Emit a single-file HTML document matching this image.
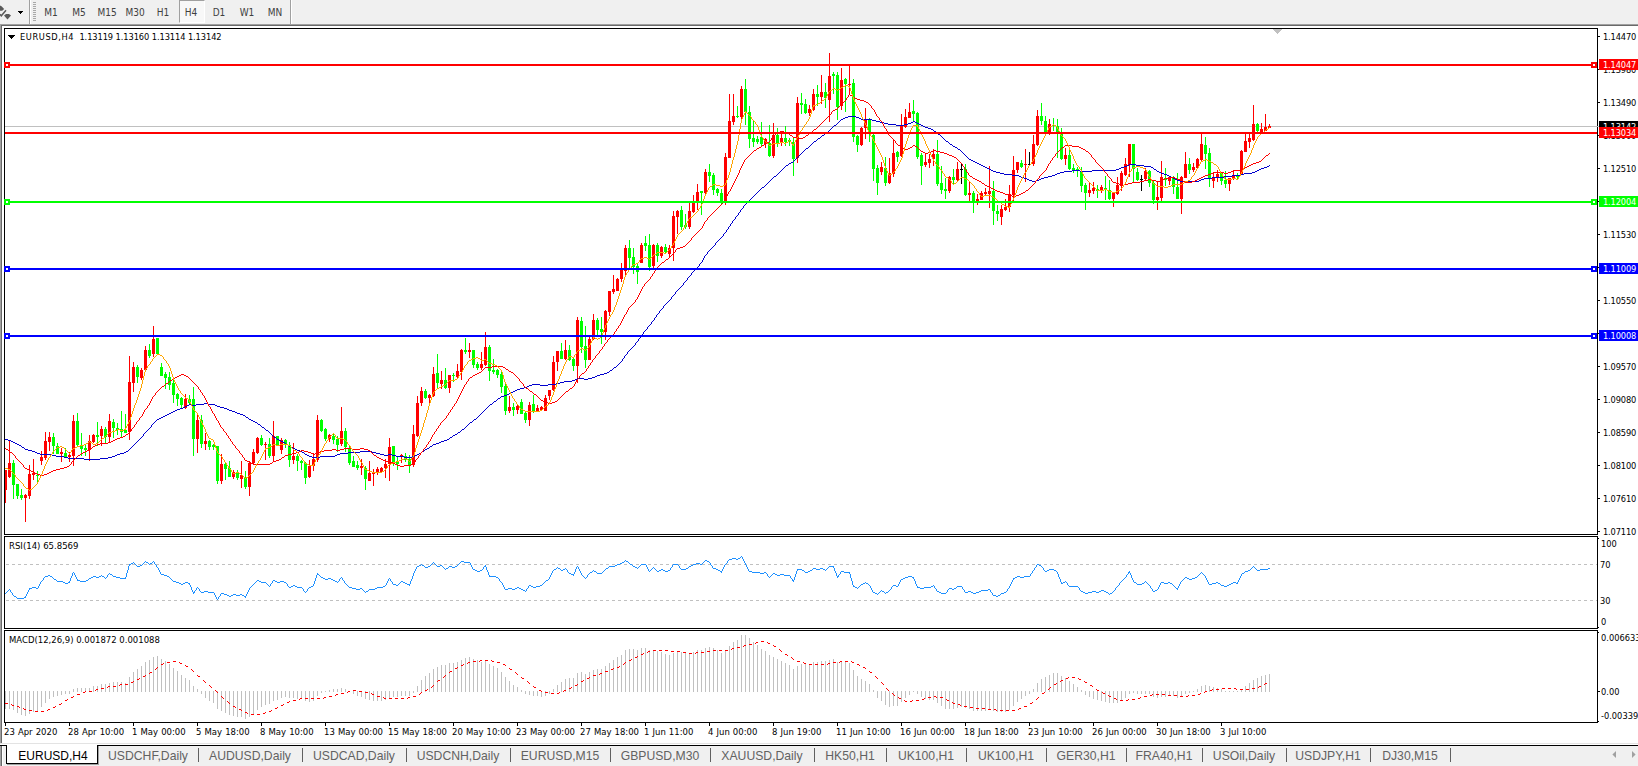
<!DOCTYPE html>
<html><head><meta charset="utf-8"><title>EURUSD,H4</title>
<style>
html,body{margin:0;padding:0}
body{width:1638px;height:766px;position:relative;overflow:hidden;background:#fff;font-family:"Liberation Sans",sans-serif}
.t{position:absolute;font-family:"DejaVu Sans Condensed","Liberation Sans",sans-serif;font-size:9.2px;line-height:15px;height:15px;white-space:nowrap}
.lb{letter-spacing:-0.15px;font-family:"DejaVu Sans Condensed","Liberation Sans",sans-serif;position:absolute;left:1599px;width:39px;height:11px;color:#fff;font-size:9.2px;line-height:12px;padding-left:4px;box-sizing:border-box;white-space:nowrap;overflow:hidden}
.tf{font-family:"DejaVu Sans Condensed","Liberation Sans",sans-serif;position:absolute;top:0;width:28px;height:23px;line-height:25px;text-align:center;font-size:10px;color:#404040}
.tab{position:absolute;top:746px;height:20px;line-height:20px;text-align:center;font-size:12.2px;color:#626262;white-space:nowrap}
</style></head><body>
<div style="position:absolute;left:0;top:0;width:1638px;height:24px;background:#f0f0f0"></div>
<div style="position:absolute;left:0;top:24px;width:1638px;height:1px;background:#a0a0a0"></div>
<div style="position:absolute;left:0;top:25px;width:1638px;height:1px;background:#696969"></div>
<div style="position:absolute;left:0;top:25px;width:1px;height:718px;background:#a0a0a0"></div>
<div style="position:absolute;left:1px;top:25px;width:1px;height:718px;background:#696969"></div>
<div style="position:absolute;left:29px;top:0;width:1px;height:24px;background:#a0a0a0"></div>
<div style="position:absolute;left:30px;top:0;width:1px;height:24px;background:#fff"></div>
<div style="position:absolute;left:290px;top:0;width:1px;height:24px;background:#a0a0a0"></div>
<div style="position:absolute;left:291px;top:0;width:1px;height:24px;background:#fff"></div>
<div style="position:absolute;left:33px;top:2px;width:3px;height:1px;background:#a8a8a8"></div><div style="position:absolute;left:33px;top:4px;width:3px;height:1px;background:#a8a8a8"></div><div style="position:absolute;left:33px;top:6px;width:3px;height:1px;background:#a8a8a8"></div><div style="position:absolute;left:33px;top:8px;width:3px;height:1px;background:#a8a8a8"></div><div style="position:absolute;left:33px;top:10px;width:3px;height:1px;background:#a8a8a8"></div><div style="position:absolute;left:33px;top:12px;width:3px;height:1px;background:#a8a8a8"></div><div style="position:absolute;left:33px;top:14px;width:3px;height:1px;background:#a8a8a8"></div><div style="position:absolute;left:33px;top:16px;width:3px;height:1px;background:#a8a8a8"></div><div style="position:absolute;left:33px;top:18px;width:3px;height:1px;background:#a8a8a8"></div><div style="position:absolute;left:33px;top:20px;width:3px;height:1px;background:#a8a8a8"></div>
<div style="position:absolute;left:179px;top:0;width:26px;height:23px;background:#f8f8f8;box-sizing:border-box;border-left:1px solid #a0a0a0;border-top:1px solid #a0a0a0;border-right:1px solid #fff;border-bottom:1px solid #fff"></div>
<div class="tf" style="left:37px">M1</div><div class="tf" style="left:65px">M5</div><div class="tf" style="left:93px">M15</div><div class="tf" style="left:121px">M30</div><div class="tf" style="left:149px">H1</div><div class="tf" style="left:177px">H4</div><div class="tf" style="left:205px">D1</div><div class="tf" style="left:233px">W1</div><div class="tf" style="left:261px">MN</div>
<svg width="30" height="24" viewBox="0 0 30 24" style="position:absolute;left:0;top:0" shape-rendering="crispEdges">
<g shape-rendering="auto"><path d="M0 5.5L1.5 6.2L4.2 9L2.2 10.8L0 10.8z" fill="#5a5a5a"/><path d="M0 14.3L1.3 15.8L6 10.3" stroke="#5a5a5a" stroke-width="1.5" fill="none"/>
<path d="M4 15.6L6 14h3l2 1.6L7.5 19.4z" fill="#5a5a5a"/></g>
<path d="M18 11h5l-2.5 3z" fill="#000"/>
</svg>
<svg width="1638" height="766" viewBox="0 0 1638 766" shape-rendering="crispEdges" style="position:absolute;left:0;top:0"><rect x="5" y="126" width="1593" height="1" fill="#c0c0c0"/><path d="M1273 29h9l-4.5 5z" fill="#c0c0c0"/><path fill="#ff0000" d="M5 470h1V503h-1zM5 470H7V490H5zM9 441h1V478h-1zM8 463H11V477H8zM25 494h1V522h-1zM24 495H27V498H24zM29 465h1V499h-1zM28 474H31V496H28zM33 459h1V480h-1zM32 473H35V475H32zM41 451h1V465h-1zM40 457H43V461H40zM45 432h1V460h-1zM44 441H47V458H44zM49 432h1V451h-1zM48 437H51V442H48zM61 448h1V462h-1zM60 452H63V454H60zM69 452h1V462h-1zM68 455H71V457H68zM73 415h1V466h-1zM72 421H75V456H72zM89 435h1V461h-1zM88 441H91V450H88zM93 434h1V443h-1zM92 435H95V442H92zM101 426h1V446h-1zM100 429H103V436H100zM109 414h1V442h-1zM108 421H111V437H108zM129 356h1V440h-1zM128 382H131V432H128zM133 362h1V392h-1zM132 367H135V383H132zM141 368h1V380h-1zM140 370H143V378H140zM145 346h1V371h-1zM144 350H147V370H144zM153 326h1V357h-1zM152 339H155V354H152zM185 394h1V409h-1zM184 399H187V408H184zM197 414h1V453h-1zM196 420H199V439H196zM205 433h1V450h-1zM204 441H207V444H204zM221 454h1V484h-1zM220 464H223V481H220zM233 470h1V479h-1zM232 472H235V477H232zM241 461h1V488h-1zM240 475H243V479H240zM249 461h1V496h-1zM248 463H251V487H248zM253 449h1V465h-1zM252 452H255V463H252zM257 437h1V454h-1zM256 438H259V453H256zM265 442h1V460h-1zM264 444H267V445H264zM273 421h1V462h-1zM272 436H275V456H272zM281 438h1V454h-1zM280 440H283V450H280zM293 443h1V464h-1zM292 456H295V460H292zM309 460h1V478h-1zM308 466H311V477H308zM313 453h1V471h-1zM312 459H315V466H312zM317 415h1V462h-1zM316 420H319V460H316zM329 434h1V442h-1zM328 435H331V439H328zM341 407h1V446h-1zM340 431H343V444H340zM361 459h1V475h-1zM360 466H363V468H360zM369 461h1V481h-1zM368 473H371V481H368zM373 469h1V486h-1zM372 472H375V474H372zM377 467h1V475h-1zM376 469H379V472H376zM381 467h1V473h-1zM380 468H383V472H380zM385 459h1V478h-1zM384 464H387V468H384zM389 438h1V481h-1zM388 447H391V464H388zM401 454h1V463h-1zM400 455H403V457H400zM413 425h1V467h-1zM412 434H415V465H412zM417 396h1V437h-1zM416 403H419V436H416zM421 387h1V406h-1zM420 391H423V403H420zM429 394h1V403h-1zM428 395H431V398H428zM433 367h1V397h-1zM432 374H435V396H432zM441 371h1V389h-1zM440 380H443V384H440zM449 375h1V393h-1zM448 375H451V388H448zM457 364h1V378h-1zM456 371H459V377H456zM461 349h1V380h-1zM460 350H463V372H460zM469 343h1V358h-1zM468 350H471V352H468zM481 352h1V370h-1zM480 364H483V368H480zM485 332h1V366h-1zM484 347H487V365H484zM509 396h1V413h-1zM508 407H511V411H508zM517 405h1V414h-1zM516 406H519V410H516zM529 402h1V426h-1zM528 405H531V420H528zM537 405h1V412h-1zM536 408H539V411H536zM541 406h1V411h-1zM540 407H543V410H540zM545 395h1V411h-1zM544 398H547V411H544zM549 390h1V400h-1zM548 390H551V396H548zM553 356h1V391h-1zM552 362H555V390H552zM557 351h1V371h-1zM556 351H559V362H556zM565 340h1V360h-1zM564 350H567V359H564zM577 317h1V383h-1zM576 320H579V366H576zM589 337h1V360h-1zM588 339H591V360H588zM593 314h1V340h-1zM592 320H595V339H592zM605 310h1V340h-1zM604 311H607V332H604zM609 291h1V316h-1zM608 291H611V312H608zM613 275h1V294h-1zM612 289H615V292H612zM617 278h1V291h-1zM616 279H619V291H616zM621 263h1V282h-1zM620 270H623V279H620zM625 245h1V275h-1zM624 248H627V271H624zM641 243h1V263h-1zM640 245H643V263H640zM653 244h1V268h-1zM652 245H655V266H652zM661 246h1V258h-1zM660 247H663V256H660zM669 245h1V258h-1zM668 248H671V254H668zM673 211h1V261h-1zM672 216H675V248H672zM677 210h1V234h-1zM676 211H679V217H676zM689 203h1V229h-1zM688 211H691V227H688zM693 195h1V213h-1zM692 201H695V212H692zM697 184h1V210h-1zM696 192H699V201H696zM705 169h1V194h-1zM704 172H707V193H704zM725 153h1V205h-1zM724 157H727V202H724zM729 94h1V158h-1zM728 121H731V158H728zM733 94h1V125h-1zM732 116H735V122H732zM741 86h1V119h-1zM740 89H743V117H740zM765 138h1V148h-1zM764 139H767V144H764zM773 123h1V158h-1zM772 135H775V156H772zM781 131h1V146h-1zM780 138H783V142H780zM797 97h1V163h-1zM796 103H799V158H796zM809 105h1V116h-1zM808 109H811V113H808zM813 89h1V111h-1zM812 94H815V110H812zM821 75h1V104h-1zM820 92H823V97H820zM829 53h1V122h-1zM828 76H831V100H828zM841 68h1V110h-1zM840 80H843V106H840zM849 65h1V95h-1zM848 84H851V85H848zM861 127h1V146h-1zM860 128H863V145H860zM865 108h1V139h-1zM864 120H867V128H864zM881 162h1V175h-1zM880 167H883V172H880zM889 158h1V184h-1zM888 173H891V183H888zM893 140h1V177h-1zM892 153H895V174H892zM901 114h1V157h-1zM900 126H903V156H900zM905 109h1V128h-1zM904 117H907V127H904zM909 103h1V118h-1zM908 112H911V118H908zM925 154h1V167h-1zM924 162H927V165H924zM929 154h1V168h-1zM928 159H931V163H928zM933 149h1V166h-1zM932 154H935V159H932zM949 176h1V193h-1zM948 177H951V191H948zM957 162h1V182h-1zM956 169H959V180H956zM969 181h1V201h-1zM968 193H971V195H968zM977 194h1V205h-1zM976 199H979V201H976zM981 191h1V200h-1zM980 193H983V200H980zM985 188h1V196h-1zM984 192H987V194H984zM989 166h1V208h-1zM988 191H991V194H988zM1001 205h1V225h-1zM1000 209H1003V217H1000zM1005 199h1V211h-1zM1004 207H1007V210H1004zM1009 185h1V212h-1zM1008 194H1011V207H1008zM1013 156h1V202h-1zM1012 170H1015V195H1012zM1017 162h1V173h-1zM1016 162H1019V170H1016zM1025 149h1V182h-1zM1024 164H1027V165H1024zM1033 135h1V166h-1zM1032 144H1035V164H1032zM1037 110h1V146h-1zM1036 116H1039V145H1036zM1049 119h1V135h-1zM1048 124H1051V134H1048zM1065 148h1V165h-1zM1064 155H1067V159H1064zM1089 183h1V197h-1zM1088 190H1091V193H1088zM1093 182h1V194h-1zM1092 188H1095V191H1092zM1101 185h1V193h-1zM1100 187H1103V190H1100zM1113 192h1V207h-1zM1112 193H1115V199H1112zM1117 177h1V195h-1zM1116 185H1119V194H1116zM1121 171h1V191h-1zM1120 173H1123V186H1120zM1125 158h1V176h-1zM1124 164H1127V175H1124zM1129 144h1V177h-1zM1128 144H1131V165H1128zM1145 168h1V180h-1zM1144 171H1147V179H1144zM1157 182h1V210h-1zM1156 197H1159V200H1156zM1161 161h1V201h-1zM1160 177H1163V198H1160zM1169 176h1V185h-1zM1168 177H1171V181H1168zM1181 176h1V214h-1zM1180 177H1183V199H1180zM1185 152h1V178h-1zM1184 164H1187V178H1184zM1193 163h1V172h-1zM1192 167H1195V170H1192zM1197 158h1V169h-1zM1196 159H1199V168H1196zM1201 133h1V161h-1zM1200 144H1203V160H1200zM1213 172h1V188h-1zM1212 177H1215V181H1212zM1217 170h1V182h-1zM1216 174H1219V177H1216zM1229 178h1V191h-1zM1228 178H1231V184H1228zM1233 170h1V180h-1zM1232 176H1235V178H1232zM1241 150h1V174h-1zM1240 151H1243V174H1240zM1245 134h1V152h-1zM1244 141H1247V152H1244zM1249 134h1V148h-1zM1248 138H1251V142H1248zM1253 105h1V141h-1zM1252 124H1255V140H1252zM1261 123h1V133h-1zM1260 129H1263V132H1260zM1265 114h1V131h-1zM1264 127H1267V131H1264zM1269 124h1V128h-1zM1268 126H1271V128H1268z"/><path fill="#00ff00" d="M13 460h1V499h-1zM12 463H15V485H12zM17 484h1V499h-1zM16 484H19V496H16zM21 489h1V500h-1zM20 495H23V498H20zM37 471h1V482h-1zM36 475H39V476H36zM53 433h1V454h-1zM52 437H55V446H52zM57 443h1V454h-1zM56 446H59V454H56zM65 448h1V458h-1zM64 453H67V457H64zM77 413h1V446h-1zM76 421H79V445H76zM81 433h1V456h-1zM80 445H83V449H80zM85 445h1V456h-1zM84 448H87V450H84zM97 422h1V446h-1zM96 435H99V437H96zM105 427h1V443h-1zM104 429H107V437H104zM113 419h1V438h-1zM112 422H115V428H112zM117 423h1V435h-1zM116 428H119V430H116zM121 411h1V438h-1zM120 429H123V432H120zM125 414h1V433h-1zM124 430H127V433H124zM137 365h1V383h-1zM136 367H139V377H136zM149 344h1V358h-1zM148 350H151V356H148zM157 338h1V354h-1zM156 338H159V354H156zM161 363h1V376h-1zM160 367H163V376H160zM165 372h1V389h-1zM164 374H167V378H164zM169 372h1V390h-1zM168 377H171V385H168zM173 378h1V403h-1zM172 383H175V395H172zM177 393h1V406h-1zM176 394H179V399H176zM181 397h1V408h-1zM180 398H183V405H180zM189 395h1V405h-1zM188 399H191V403H188zM193 387h1V456h-1zM192 399H195V439H192zM201 415h1V448h-1zM200 420H203V444H200zM209 440h1V450h-1zM208 441H211V447H208zM213 444h1V450h-1zM212 445H215V447H212zM217 446h1V484h-1zM216 446H219V481H216zM225 462h1V480h-1zM224 464H227V469H224zM229 461h1V477h-1zM228 468H231V477H228zM237 470h1V480h-1zM236 472H239V478H236zM245 471h1V489h-1zM244 477H247V487H244zM261 435h1V446h-1zM260 438H263V445H260zM269 438h1V458h-1zM268 444H271V456H268zM277 436h1V446h-1zM276 436H279V445H276zM285 439h1V448h-1zM284 440H287V444H284zM289 442h1V467h-1zM288 445H291V460H288zM297 454h1V471h-1zM296 456H299V461H296zM301 460h1V470h-1zM300 461H303V463H300zM305 462h1V484h-1zM304 463H307V478H304zM321 419h1V432h-1zM320 420H323V431H320zM325 428h1V441h-1zM324 429H327V439H324zM333 433h1V444h-1zM332 436H335V440H332zM337 436h1V452h-1zM336 439H339V445H336zM345 428h1V452h-1zM344 431H347V447H344zM349 446h1V465h-1zM348 448H351V463H348zM353 456h1V467h-1zM352 461H355V467H352zM357 461h1V470h-1zM356 465H359V468H356zM365 466h1V490h-1zM364 468H367V479H364zM393 446h1V466h-1zM392 446H395V463H392zM397 457h1V470h-1zM396 461H399V464H396zM405 453h1V462h-1zM404 456H407V460H404zM409 455h1V473h-1zM408 459H411V465H408zM425 389h1V399h-1zM424 391H427V398H424zM437 354h1V388h-1zM436 373H439V383H436zM445 368h1V389h-1zM444 380H447V388H444zM453 373h1V382h-1zM452 375H455V376H452zM465 338h1V354h-1zM464 350H467V352H464zM473 350h1V368h-1zM472 350H475V365H472zM477 362h1V370h-1zM476 364H479V368H476zM489 345h1V381h-1zM488 347H491V371H488zM493 359h1V374h-1zM492 370H495V372H492zM497 369h1V378h-1zM496 370H499V375H496zM501 371h1V393h-1zM500 374H503V387H500zM505 384h1V415h-1zM504 386H507V411H504zM513 403h1V416h-1zM512 407H515V410H512zM521 399h1V414h-1zM520 402H523V414H520zM525 412h1V423h-1zM524 413H527V420H524zM533 395h1V413h-1zM532 404H535V411H532zM561 343h1V359h-1zM560 351H563V359H560zM569 345h1V361h-1zM568 350H571V360H568zM573 358h1V371h-1zM572 359H575V366H572zM581 317h1V353h-1zM580 321H583V347H580zM585 326h1V368h-1zM584 346H587V360H584zM597 318h1V335h-1zM596 320H599V330H596zM601 317h1V344h-1zM600 329H603V332H600zM629 240h1V269h-1zM628 248H631V258H628zM633 248h1V274h-1zM632 257H635V267H632zM637 264h1V284h-1zM636 266H639V272H636zM645 236h1V251h-1zM644 243H647V246H644zM649 234h1V271h-1zM648 245H651V267H648zM657 243h1V262h-1zM656 245H659V256H656zM665 244h1V253h-1zM664 247H667V252H664zM681 206h1V230h-1zM680 210H683V227H680zM685 214h1V229h-1zM684 225H687V227H684zM701 191h1V215h-1zM700 191H703V193H700zM709 164h1V182h-1zM708 172H711V176H708zM713 173h1V195h-1zM712 175H715V190H712zM717 188h1V196h-1zM716 189H719V193H716zM721 189h1V204h-1zM720 193H723V202H720zM737 106h1V118h-1zM736 116H739V117H736zM745 79h1V125h-1zM744 89H747V112H744zM749 106h1V148h-1zM748 112H751V139H748zM753 120h1V147h-1zM752 138H755V142H752zM757 136h1V144h-1zM756 139H759V142H756zM761 122h1V146h-1zM760 137H763V144H760zM769 125h1V157h-1zM768 143H771V156H768zM777 128h1V147h-1zM776 135H779V143H776zM785 126h1V146h-1zM784 138H787V142H784zM789 138h1V146h-1zM788 140H791V142H788zM793 138h1V176h-1zM792 142H795V159H792zM801 93h1V114h-1zM800 103H803V105H800zM805 99h1V114h-1zM804 104H807V113H804zM817 85h1V106h-1zM816 94H819V97H816zM825 83h1V108h-1zM824 92H827V98H824zM833 72h1V94h-1zM832 74H835V76H832zM837 72h1V120h-1zM836 75H839V107H836zM845 78h1V112h-1zM844 79H847V84H844zM853 79h1V142h-1zM852 83H855V137H852zM857 135h1V152h-1zM856 136H859V145H856zM869 118h1V142h-1zM868 120H871V134H868zM873 134h1V181h-1zM872 135H875V169H872zM877 165h1V195h-1zM876 168H879V183H876zM885 157h1V186h-1zM884 168H887V183H884zM897 151h1V162h-1zM896 152H899V157H896zM913 100h1V122h-1zM912 111H915V114H912zM917 112h1V159h-1zM916 113H919V157H916zM921 153h1V185h-1zM920 155H923V166H920zM937 140h1V186h-1zM936 154H939V184H936zM941 166h1V194h-1zM940 183H943V190H940zM945 178h1V199h-1zM944 189H947V191H944zM953 169h1V185h-1zM952 177H955V180H952zM965 164h1V196h-1zM964 169H967V195H964zM973 191h1V213h-1zM972 193H975V201H972zM993 181h1V225h-1zM992 191H995V211H992zM997 205h1V221h-1zM996 211H999V214H996zM1021 160h1V168h-1zM1020 163H1023V167H1020zM1041 103h1V125h-1zM1040 116H1043V121H1040zM1045 116h1V135h-1zM1044 121H1047V132H1044zM1053 118h1V131h-1zM1052 125H1055V126H1052zM1057 119h1V158h-1zM1056 126H1059V132H1056zM1061 128h1V160h-1zM1060 133H1063V159H1060zM1069 150h1V170h-1zM1068 155H1071V169H1068zM1073 164h1V173h-1zM1072 168H1075V170H1072zM1077 167h1V177h-1zM1076 169H1079V171H1076zM1081 167h1V192h-1zM1080 171H1083V186H1080zM1085 183h1V210h-1zM1084 185H1087V193H1084zM1097 185h1V198h-1zM1096 189H1099V191H1096zM1105 176h1V200h-1zM1104 188H1107V190H1104zM1109 180h1V200h-1zM1108 190H1111V199H1108zM1133 144h1V182h-1zM1132 144H1135V169H1132zM1137 168h1V181h-1zM1136 172H1139V180H1136zM1149 170h1V187h-1zM1148 171H1151V183H1148zM1153 181h1V204h-1zM1152 183H1155V200H1152zM1165 168h1V186h-1zM1164 178H1167V180H1164zM1173 176h1V194h-1zM1172 178H1175V187H1172zM1177 173h1V199h-1zM1176 187H1179V199H1176zM1189 158h1V174h-1zM1188 164H1191V170H1188zM1205 137h1V169h-1zM1204 145H1207V154H1204zM1209 148h1V187h-1zM1208 153H1211V178H1208zM1221 172h1V185h-1zM1220 173H1223V181H1220zM1225 171h1V188h-1zM1224 180H1227V184H1224zM1237 173h1V180h-1zM1236 176H1239V177H1236zM1257 123h1V134h-1zM1256 124H1259V131H1256z"/><path fill="#000000" d="M961 163h1V184h-1zM960 169H963v1H960zM1029 152h1V165h-1zM1028 164H1031v1H1028zM1141 175h1V191h-1zM1140 179H1143v1H1140z"/><path fill="#0000cd" d="M5 439h3v1h-3zM8 440h3v1h-3zM11 441h2v1h-2zM13 442h2v1h-2zM15 443h2v1h-2zM17 444h2v1h-2zM19 445h2v1h-2zM21 446h1v1h-1zM22 447h2v1h-2zM24 448h1v1h-1zM25 449h3v1h-3zM28 450h4v1h-4zM32 451h3v1h-3zM35 452h2v1h-2zM37 453h3v1h-3zM40 454h12v1h-12zM52 455h4v1h-4zM56 456h8v1h-8zM64 457h4v1h-4zM68 458h16v1h-16zM84 459h16v1h-16zM100 458h8v1h-8zM108 457h4v1h-4zM112 456h3v1h-3zM115 455h2v1h-2zM117 454h3v1h-3zM120 453h4v1h-4zM124 452h2v1h-2zM126 451h2v1h-2zM128 450h1v1h-1zM129 449h1v1h-1zM130 448h1v1h-1zM131 447h1v1h-1zM132 446h1v1h-1zM133 445h1v1h-1zM134 444h1v1h-1zM135 443h1v1h-1zM136 442h1v1h-1zM137 441h1v1h-1zM138 440h1v1h-1zM139 439h1v1h-1zM140 438h1v1h-1zM141 437h1v1h-1zM142 436h1v1h-1zM143 434h1v2h-1zM144 433h1v1h-1zM145 432h1v1h-1zM146 431h1v1h-1zM147 430h1v1h-1zM148 429h1v1h-1zM149 428h1v1h-1zM150 427h1v1h-1zM151 425h1v2h-1zM152 424h1v1h-1zM153 423h1v1h-1zM154 422h1v1h-1zM155 421h1v1h-1zM156 420h1v1h-1zM157 419h2v1h-2zM159 418h2v1h-2zM161 417h2v1h-2zM163 416h2v1h-2zM165 415h2v1h-2zM167 414h2v1h-2zM169 413h2v1h-2zM171 412h2v1h-2zM173 411h2v1h-2zM175 410h2v1h-2zM177 409h3v1h-3zM180 408h3v1h-3zM183 407h2v1h-2zM185 406h2v1h-2zM187 405h2v1h-2zM189 404h3v1h-3zM192 405h4v1h-4zM196 404h8v1h-8zM204 403h4v1h-4zM208 404h7v1h-7zM215 405h2v1h-2zM217 406h3v1h-3zM220 407h4v1h-4zM224 408h3v1h-3zM227 409h2v1h-2zM229 410h3v1h-3zM232 411h3v1h-3zM235 412h2v1h-2zM237 413h3v1h-3zM240 414h3v1h-3zM243 415h2v1h-2zM245 416h1v1h-1zM246 417h2v1h-2zM248 418h1v1h-1zM249 419h2v1h-2zM251 420h2v1h-2zM253 421h2v1h-2zM255 422h2v1h-2zM257 423h1v1h-1zM258 424h2v1h-2zM260 425h1v1h-1zM261 426h1v1h-1zM262 427h2v1h-2zM264 428h1v1h-1zM265 429h1v1h-1zM266 430h2v1h-2zM268 431h1v1h-1zM269 432h1v1h-1zM270 433h1v1h-1zM271 434h1v1h-1zM272 435h1v1h-1zM273 436h1v1h-1zM274 437h2v1h-2zM276 438h1v1h-1zM277 439h2v1h-2zM279 440h2v1h-2zM281 441h2v1h-2zM283 442h2v1h-2zM285 443h1v1h-1zM286 444h2v1h-2zM288 445h1v1h-1zM289 446h2v1h-2zM291 447h2v1h-2zM293 448h2v1h-2zM295 449h2v1h-2zM297 450h3v1h-3zM300 451h2v1h-2zM302 452h2v1h-2zM304 453h1v1h-1zM305 454h2v1h-2zM307 455h2v1h-2zM309 456h3v1h-3zM312 457h8v1h-8zM320 456h15v1h-15zM335 455h2v1h-2zM337 454h3v1h-3zM340 453h8v1h-8zM348 452h12v1h-12zM360 451h12v1h-12zM372 452h4v1h-4zM376 453h4v1h-4zM380 454h4v1h-4zM384 455h4v1h-4zM388 454h4v1h-4zM392 455h4v1h-4zM396 456h8v1h-8zM404 457h8v1h-8zM412 456h3v1h-3zM415 455h2v1h-2zM417 454h2v1h-2zM419 453h2v1h-2zM421 452h1v1h-1zM422 451h2v1h-2zM424 450h1v1h-1zM425 449h2v1h-2zM427 448h2v1h-2zM429 447h1v1h-1zM430 446h2v1h-2zM432 445h1v1h-1zM433 444h3v1h-3zM436 443h3v1h-3zM439 442h2v1h-2zM441 441h3v1h-3zM444 440h3v1h-3zM447 439h2v1h-2zM449 438h1v1h-1zM450 437h2v1h-2zM452 436h1v1h-1zM453 435h2v1h-2zM455 434h2v1h-2zM457 433h1v1h-1zM458 432h2v1h-2zM460 431h1v1h-1zM461 430h1v1h-1zM462 429h2v1h-2zM464 428h1v1h-1zM465 427h1v1h-1zM466 426h1v1h-1zM467 425h1v1h-1zM468 424h1v1h-1zM469 423h1v1h-1zM470 422h2v1h-2zM472 421h1v1h-1zM473 420h1v1h-1zM474 419h2v1h-2zM476 418h1v1h-1zM477 417h1v1h-1zM478 416h1v1h-1zM479 415h1v1h-1zM480 414h1v1h-1zM481 413h1v1h-1zM482 412h1v1h-1zM483 411h1v1h-1zM484 410h1v1h-1zM485 409h1v1h-1zM486 408h1v1h-1zM487 407h1v1h-1zM488 406h1v1h-1zM489 405h1v1h-1zM490 404h2v1h-2zM492 403h1v1h-1zM493 402h1v1h-1zM494 401h2v1h-2zM496 400h1v1h-1zM497 399h1v1h-1zM498 398h2v1h-2zM500 397h1v1h-1zM501 396h3v1h-3zM504 395h3v1h-3zM507 394h2v1h-2zM509 393h2v1h-2zM511 392h2v1h-2zM513 391h2v1h-2zM515 390h2v1h-2zM517 389h3v1h-3zM520 388h4v1h-4zM524 387h3v1h-3zM527 386h2v1h-2zM529 385h3v1h-3zM532 384h8v1h-8zM540 385h8v1h-8zM548 384h8v1h-8zM556 383h4v1h-4zM560 382h4v1h-4zM564 381h8v1h-8zM572 380h3v1h-3zM575 379h2v1h-2zM577 378h7v1h-7zM584 379h4v1h-4zM588 378h4v1h-4zM592 377h3v1h-3zM595 376h2v1h-2zM597 375h3v1h-3zM600 374h4v1h-4zM604 373h3v1h-3zM607 372h2v1h-2zM609 371h1v1h-1zM610 370h2v1h-2zM612 369h1v1h-1zM613 368h1v1h-1zM614 367h2v1h-2zM616 366h1v1h-1zM617 365h1v1h-1zM618 364h1v1h-1zM619 363h1v1h-1zM620 362h1v1h-1zM621 361h1v1h-1zM622 359h1v2h-1zM623 358h1v1h-1zM624 356h1v2h-1zM625 355h1v1h-1zM626 354h1v1h-1zM627 352h1v2h-1zM628 351h1v1h-1zM629 350h1v1h-1zM630 349h1v1h-1zM631 348h1v1h-1zM632 347h1v1h-1zM633 346h1v1h-1zM634 345h1v1h-1zM635 343h1v2h-1zM636 342h1v1h-1zM637 341h1v1h-1zM638 339h1v2h-1zM639 338h1v1h-1zM640 336h1v2h-1zM641 335h1v1h-1zM642 334h1v1h-1zM643 332h1v2h-1zM644 331h1v1h-1zM645 330h1v1h-1zM646 329h1v1h-1zM647 327h1v2h-1zM648 326h1v1h-1zM649 325h1v1h-1zM650 324h1v1h-1zM651 322h1v2h-1zM652 321h1v1h-1zM653 320h1v1h-1zM654 318h1v2h-1zM655 317h1v1h-1zM656 315h1v2h-1zM657 314h1v1h-1zM658 313h1v1h-1zM659 311h1v2h-1zM660 310h1v1h-1zM661 309h1v1h-1zM662 308h1v1h-1zM663 306h1v2h-1zM664 305h1v1h-1zM665 304h1v1h-1zM666 303h1v1h-1zM667 302h1v1h-1zM668 301h1v1h-1zM669 300h1v1h-1zM670 299h1v1h-1zM671 297h1v2h-1zM672 296h1v1h-1zM673 295h1v1h-1zM674 294h1v1h-1zM675 292h1v2h-1zM676 291h1v1h-1zM677 290h1v1h-1zM678 289h1v1h-1zM679 288h1v1h-1zM680 287h1v1h-1zM681 286h1v1h-1zM682 285h1v1h-1zM683 283h1v2h-1zM684 282h1v1h-1zM685 281h1v1h-1zM686 280h1v1h-1zM687 278h1v2h-1zM688 277h1v1h-1zM689 276h1v1h-1zM690 275h1v1h-1zM691 273h1v2h-1zM692 272h1v1h-1zM693 271h1v1h-1zM694 270h1v1h-1zM695 269h1v1h-1zM696 268h1v1h-1zM697 267h1v1h-1zM698 266h1v1h-1zM699 264h1v2h-1zM700 263h1v1h-1zM701 262h1v1h-1zM702 260h1v2h-1zM703 258h1v2h-1zM704 256h1v2h-1zM705 255h1v1h-1zM706 254h1v1h-1zM707 252h1v2h-1zM708 251h1v1h-1zM709 250h1v1h-1zM710 249h1v1h-1zM711 248h1v1h-1zM712 247h1v1h-1zM713 246h1v1h-1zM714 245h1v1h-1zM715 243h1v2h-1zM716 242h1v1h-1zM717 241h1v1h-1zM718 240h1v1h-1zM719 239h1v1h-1zM720 238h1v1h-1zM721 237h1v1h-1zM722 236h1v1h-1zM723 234h1v2h-1zM724 233h1v1h-1zM725 232h1v1h-1zM726 230h1v2h-1zM727 229h1v1h-1zM728 227h1v2h-1zM729 226h1v1h-1zM730 224h1v2h-1zM731 223h1v1h-1zM732 221h1v2h-1zM733 220h1v1h-1zM734 219h1v1h-1zM735 217h1v2h-1zM736 216h1v1h-1zM737 215h1v1h-1zM738 213h1v2h-1zM739 212h1v1h-1zM740 210h1v2h-1zM741 209h1v1h-1zM742 208h1v1h-1zM743 206h1v2h-1zM744 205h1v1h-1zM745 204h1v1h-1zM746 203h1v1h-1zM747 202h1v1h-1zM748 201h1v1h-1zM749 200h1v1h-1zM750 199h1v1h-1zM751 198h1v1h-1zM752 197h1v1h-1zM753 196h1v1h-1zM754 195h1v1h-1zM755 194h1v1h-1zM756 193h1v1h-1zM757 192h1v1h-1zM758 191h1v1h-1zM759 190h1v1h-1zM760 189h1v1h-1zM761 188h1v1h-1zM762 187h2v1h-2zM764 186h1v1h-1zM765 185h1v1h-1zM766 184h1v1h-1zM767 183h1v1h-1zM768 182h1v1h-1zM769 181h1v1h-1zM770 180h1v1h-1zM771 179h1v1h-1zM772 178h1v1h-1zM773 177h1v1h-1zM774 176h2v1h-2zM776 175h1v1h-1zM777 174h1v1h-1zM778 173h1v1h-1zM779 172h1v1h-1zM780 171h1v1h-1zM781 170h1v1h-1zM782 169h1v1h-1zM783 168h1v1h-1zM784 167h1v1h-1zM785 166h1v1h-1zM786 165h2v1h-2zM788 164h1v1h-1zM789 163h2v1h-2zM791 162h2v1h-2zM793 161h1v1h-1zM794 160h1v1h-1zM795 159h1v1h-1zM796 158h1v1h-1zM797 157h1v1h-1zM798 156h1v1h-1zM799 155h1v1h-1zM800 154h1v1h-1zM801 153h1v1h-1zM802 152h1v1h-1zM803 151h1v1h-1zM804 150h1v1h-1zM805 149h1v1h-1zM806 148h2v1h-2zM808 147h1v1h-1zM809 146h1v1h-1zM810 145h1v1h-1zM811 144h1v1h-1zM812 143h1v1h-1zM813 142h1v1h-1zM814 141h2v1h-2zM816 140h1v1h-1zM817 139h1v1h-1zM818 138h2v1h-2zM820 137h1v1h-1zM821 136h1v1h-1zM822 135h2v1h-2zM824 134h1v1h-1zM825 133h1v1h-1zM826 132h2v1h-2zM828 131h1v1h-1zM829 130h1v1h-1zM830 129h1v1h-1zM831 128h1v1h-1zM832 127h1v1h-1zM833 126h1v1h-1zM834 125h2v1h-2zM836 124h1v1h-1zM837 123h1v1h-1zM838 122h1v1h-1zM839 121h1v1h-1zM840 120h1v1h-1zM841 119h2v1h-2zM843 118h2v1h-2zM845 117h3v1h-3zM848 116h8v1h-8zM856 117h3v1h-3zM859 118h2v1h-2zM861 119h11v1h-11zM872 120h4v1h-4zM876 121h4v1h-4zM880 122h4v1h-4zM884 123h4v1h-4zM888 124h8v1h-8zM896 125h8v1h-8zM904 124h4v1h-4zM908 123h3v1h-3zM911 122h2v1h-2zM913 121h2v1h-2zM915 122h2v1h-2zM917 123h2v1h-2zM919 124h2v1h-2zM921 125h2v1h-2zM923 126h2v1h-2zM925 127h3v1h-3zM928 128h3v1h-3zM931 129h2v1h-2zM933 130h1v1h-1zM934 131h2v1h-2zM936 132h1v1h-1zM937 133h1v1h-1zM938 134h2v1h-2zM940 135h1v1h-1zM941 136h1v1h-1zM942 137h1v1h-1zM943 138h1v1h-1zM944 139h1v1h-1zM945 140h1v1h-1zM946 141h2v1h-2zM948 142h1v1h-1zM949 143h1v1h-1zM950 144h2v1h-2zM952 145h1v1h-1zM953 146h2v1h-2zM955 147h2v1h-2zM957 148h1v1h-1zM958 149h2v1h-2zM960 150h1v1h-1zM961 151h1v1h-1zM962 152h1v1h-1zM963 153h1v1h-1zM964 154h1v1h-1zM965 155h1v1h-1zM966 156h1v1h-1zM967 157h1v1h-1zM968 158h1v1h-1zM969 159h2v1h-2zM971 160h2v1h-2zM973 161h2v1h-2zM975 162h2v1h-2zM977 163h2v1h-2zM979 164h2v1h-2zM981 165h2v1h-2zM983 166h2v1h-2zM985 167h2v1h-2zM987 168h2v1h-2zM989 169h2v1h-2zM991 170h2v1h-2zM993 171h3v1h-3zM996 172h4v1h-4zM1000 173h4v1h-4zM1004 174h8v1h-8zM1012 175h7v1h-7zM1019 176h2v1h-2zM1021 177h3v1h-3zM1024 178h3v1h-3zM1027 179h2v1h-2zM1029 180h3v1h-3zM1032 181h4v1h-4zM1036 180h3v1h-3zM1039 179h2v1h-2zM1041 178h3v1h-3zM1044 177h4v1h-4zM1048 176h4v1h-4zM1052 175h3v1h-3zM1055 174h2v1h-2zM1057 173h3v1h-3zM1060 172h4v1h-4zM1064 171h8v1h-8zM1072 170h8v1h-8zM1080 171h12v1h-12zM1092 170h24v1h-24zM1116 169h3v1h-3zM1119 168h2v1h-2zM1121 167h3v1h-3zM1124 166h3v1h-3zM1127 165h2v1h-2zM1129 164h7v1h-7zM1136 165h8v1h-8zM1144 166h7v1h-7zM1151 167h2v1h-2zM1153 168h1v1h-1zM1154 169h2v1h-2zM1156 170h1v1h-1zM1157 171h2v1h-2zM1159 172h2v1h-2zM1161 173h3v1h-3zM1164 174h3v1h-3zM1167 175h2v1h-2zM1169 176h2v1h-2zM1171 177h2v1h-2zM1173 178h2v1h-2zM1175 179h2v1h-2zM1177 180h3v1h-3zM1180 181h19v1h-19zM1199 180h2v1h-2zM1201 179h3v1h-3zM1204 178h8v1h-8zM1212 177h12v1h-12zM1224 176h8v1h-8zM1232 175h8v1h-8zM1240 174h4v1h-4zM1244 173h8v1h-8zM1252 172h3v1h-3zM1255 171h2v1h-2zM1257 170h2v1h-2zM1259 169h2v1h-2zM1261 168h3v1h-3zM1264 167h3v1h-3zM1267 166h2v1h-2zM1269 165h1v1h-1z"/><path fill="#ff0000" d="M5 448h1v1h-1zM6 449h2v1h-2zM8 450h1v1h-1zM9 451h1v1h-1zM10 452h2v1h-2zM12 453h1v1h-1zM13 454h1v1h-1zM14 455h1v1h-1zM15 456h1v2h-1zM16 458h1v1h-1zM17 459h1v1h-1zM18 460h1v1h-1zM19 461h1v1h-1zM20 462h1v1h-1zM21 463h1v1h-1zM22 464h1v1h-1zM23 465h1v2h-1zM24 467h1v1h-1zM25 468h2v1h-2zM27 469h2v1h-2zM29 470h2v1h-2zM31 471h2v1h-2zM33 472h2v1h-2zM35 473h2v1h-2zM37 474h3v1h-3zM40 475h4v1h-4zM44 474h3v1h-3zM47 473h2v1h-2zM49 472h2v1h-2zM51 471h2v1h-2zM53 470h3v1h-3zM56 469h4v1h-4zM60 468h4v1h-4zM64 467h3v1h-3zM67 466h2v1h-2zM69 465h1v1h-1zM70 464h1v1h-1zM71 462h1v2h-1zM72 461h1v1h-1zM73 460h1v1h-1zM74 459h1v1h-1zM75 458h1v1h-1zM76 457h1v1h-1zM77 456h1v1h-1zM78 455h2v1h-2zM80 454h1v1h-1zM81 453h2v1h-2zM83 452h2v1h-2zM85 451h2v1h-2zM87 450h2v1h-2zM89 449h1v1h-1zM90 448h2v1h-2zM92 447h1v1h-1zM93 446h2v1h-2zM95 445h2v1h-2zM97 444h3v1h-3zM100 443h8v1h-8zM108 442h3v1h-3zM111 441h2v1h-2zM113 440h2v1h-2zM115 439h2v1h-2zM117 438h3v1h-3zM120 437h3v1h-3zM123 436h2v1h-2zM125 435h1v1h-1zM126 434h2v1h-2zM128 433h1v1h-1zM129 432h1v1h-1zM130 431h1v1h-1zM131 429h1v2h-1zM132 428h1v1h-1zM133 427h1v1h-1zM134 425h1v2h-1zM135 424h1v1h-1zM136 422h1v2h-1zM137 421h1v1h-1zM138 420h1v1h-1zM139 418h1v2h-1zM140 417h1v1h-1zM141 416h1v1h-1zM142 414h1v2h-1zM143 412h1v2h-1zM144 410h1v2h-1zM145 409h1v1h-1zM146 408h1v1h-1zM147 406h1v2h-1zM148 405h1v1h-1zM149 403h1v2h-1zM150 401h1v2h-1zM151 399h1v2h-1zM152 397h1v2h-1zM153 396h1v1h-1zM154 395h1v1h-1zM155 393h1v2h-1zM156 392h1v1h-1zM157 391h1v1h-1zM158 390h1v1h-1zM159 389h1v1h-1zM160 388h1v1h-1zM161 387h1v1h-1zM162 386h2v1h-2zM164 385h1v1h-1zM165 384h1v1h-1zM166 383h2v1h-2zM168 382h1v1h-1zM169 381h1v1h-1zM170 380h2v1h-2zM172 379h1v1h-1zM173 378h2v1h-2zM175 377h2v1h-2zM177 376h2v1h-2zM179 375h2v1h-2zM181 374h3v1h-3zM184 375h2v1h-2zM186 376h2v1h-2zM188 377h1v1h-1zM189 378h1v1h-1zM190 379h1v1h-1zM191 380h1v1h-1zM192 381h1v1h-1zM193 382h1v1h-1zM194 383h1v1h-1zM195 384h1v1h-1zM196 385h1v1h-1zM197 386h1v1h-1zM198 387h1v2h-1zM199 389h1v1h-1zM200 390h1v2h-1zM201 392h1v1h-1zM202 393h1v2h-1zM203 395h1v1h-1zM204 396h1v2h-1zM205 398h1v2h-1zM206 400h1v2h-1zM207 402h1v2h-1zM208 404h1v2h-1zM209 406h1v1h-1zM210 407h1v2h-1zM211 409h1v2h-1zM212 411h1v2h-1zM213 413h1v1h-1zM214 414h1v2h-1zM215 416h1v2h-1zM216 418h1v2h-1zM217 420h1v1h-1zM218 421h1v2h-1zM219 423h1v2h-1zM220 425h1v2h-1zM221 427h1v1h-1zM222 428h1v1h-1zM223 429h1v2h-1zM224 431h1v1h-1zM225 432h1v1h-1zM226 433h1v2h-1zM227 435h1v1h-1zM228 436h1v2h-1zM229 438h1v1h-1zM230 439h1v2h-1zM231 441h1v1h-1zM232 442h1v2h-1zM233 444h1v1h-1zM234 445h1v1h-1zM235 446h1v2h-1zM236 448h1v1h-1zM237 449h1v1h-1zM238 450h1v1h-1zM239 451h1v2h-1zM240 453h1v1h-1zM241 454h1v1h-1zM242 455h1v2h-1zM243 457h1v1h-1zM244 458h1v2h-1zM245 460h2v1h-2zM247 461h2v1h-2zM249 462h2v1h-2zM251 463h2v1h-2zM253 464h17v1h-17zM270 463h2v1h-2zM272 462h1v1h-1zM273 461h3v1h-3zM276 460h3v1h-3zM279 459h2v1h-2zM281 458h1v1h-1zM282 457h2v1h-2zM284 456h1v1h-1zM285 455h3v1h-3zM288 454h4v1h-4zM292 453h4v1h-4zM296 452h3v1h-3zM299 451h2v1h-2zM301 450h3v1h-3zM304 451h4v1h-4zM308 452h3v1h-3zM311 453h2v1h-2zM313 454h2v1h-2zM315 453h2v1h-2zM317 452h3v1h-3zM320 451h4v1h-4zM324 450h8v1h-8zM332 449h4v1h-4zM336 450h4v1h-4zM340 449h4v1h-4zM344 448h8v1h-8zM352 449h8v1h-8zM360 448h4v1h-4zM364 449h4v1h-4zM368 450h2v1h-2zM370 451h1v1h-1zM371 452h1v1h-1zM372 453h1v1h-1zM373 454h1v1h-1zM374 455h2v1h-2zM376 456h1v1h-1zM377 457h2v1h-2zM379 458h2v1h-2zM381 459h2v1h-2zM383 460h2v1h-2zM385 461h6v1h-6zM391 462h2v1h-2zM393 463h2v1h-2zM395 464h2v1h-2zM397 465h3v1h-3zM400 466h4v1h-4zM404 465h7v1h-7zM411 464h2v1h-2zM413 463h1v1h-1zM414 462h1v1h-1zM415 460h1v2h-1zM416 459h1v1h-1zM417 458h1v1h-1zM418 456h1v2h-1zM419 455h1v1h-1zM420 453h1v2h-1zM421 452h1v1h-1zM422 451h1v1h-1zM423 449h1v2h-1zM424 448h1v1h-1zM425 447h1v1h-1zM426 445h1v2h-1zM427 444h1v1h-1zM428 442h1v2h-1zM429 441h1v1h-1zM430 439h1v2h-1zM431 437h1v2h-1zM432 435h1v2h-1zM433 434h1v1h-1zM434 432h1v2h-1zM435 431h1v1h-1zM436 429h1v2h-1zM437 428h1v1h-1zM438 426h1v2h-1zM439 425h1v1h-1zM440 423h1v2h-1zM441 422h1v1h-1zM442 421h1v1h-1zM443 420h1v1h-1zM444 419h1v1h-1zM445 418h1v1h-1zM446 416h1v2h-1zM447 415h1v1h-1zM448 413h1v2h-1zM449 412h1v1h-1zM450 410h1v2h-1zM451 409h1v1h-1zM452 407h1v2h-1zM453 406h1v1h-1zM454 404h1v2h-1zM455 403h1v1h-1zM456 401h1v2h-1zM457 399h1v2h-1zM458 397h1v2h-1zM459 395h1v2h-1zM460 393h1v2h-1zM461 391h1v2h-1zM462 389h1v2h-1zM463 387h1v2h-1zM464 385h1v2h-1zM465 384h1v1h-1zM466 382h1v2h-1zM467 381h1v1h-1zM468 379h1v2h-1zM469 378h1v1h-1zM470 377h2v1h-2zM472 376h1v1h-1zM473 375h2v1h-2zM475 374h2v1h-2zM477 373h2v1h-2zM479 372h2v1h-2zM481 371h1v1h-1zM482 370h1v1h-1zM483 369h1v1h-1zM484 368h1v1h-1zM485 367h7v1h-7zM492 366h11v1h-11zM503 367h2v1h-2zM505 368h1v1h-1zM506 369h2v1h-2zM508 370h1v1h-1zM509 371h2v1h-2zM511 372h2v1h-2zM513 373h1v1h-1zM514 374h1v1h-1zM515 375h1v1h-1zM516 376h1v1h-1zM517 377h1v1h-1zM518 378h1v1h-1zM519 379h1v2h-1zM520 381h1v1h-1zM521 382h1v1h-1zM522 383h1v1h-1zM523 384h1v2h-1zM524 386h1v1h-1zM525 387h1v1h-1zM526 388h2v1h-2zM528 389h1v1h-1zM529 390h1v1h-1zM530 391h2v1h-2zM532 392h1v1h-1zM533 393h1v1h-1zM534 394h2v1h-2zM536 395h1v1h-1zM537 396h1v1h-1zM538 397h1v1h-1zM539 398h1v1h-1zM540 399h1v1h-1zM541 400h2v1h-2zM543 401h2v1h-2zM545 402h3v1h-3zM548 403h4v1h-4zM552 402h3v1h-3zM555 401h2v1h-2zM557 400h1v1h-1zM558 399h1v1h-1zM559 398h1v1h-1zM560 397h1v1h-1zM561 396h1v1h-1zM562 395h1v1h-1zM563 394h1v1h-1zM564 393h1v1h-1zM565 392h1v1h-1zM566 391h2v1h-2zM568 390h1v1h-1zM569 389h1v1h-1zM570 388h2v1h-2zM572 387h1v1h-1zM573 386h1v1h-1zM574 384h1v2h-1zM575 382h1v2h-1zM576 380h1v2h-1zM577 379h1v1h-1zM578 378h1v1h-1zM579 376h1v2h-1zM580 375h1v1h-1zM581 374h1v1h-1zM582 373h2v1h-2zM584 372h1v1h-1zM585 371h1v1h-1zM586 369h1v2h-1zM587 368h1v1h-1zM588 366h1v2h-1zM589 365h1v1h-1zM590 363h1v2h-1zM591 362h1v1h-1zM592 360h1v2h-1zM593 359h1v1h-1zM594 358h1v1h-1zM595 356h1v2h-1zM596 355h1v1h-1zM597 354h1v1h-1zM598 353h1v1h-1zM599 351h1v2h-1zM600 350h1v1h-1zM601 349h1v1h-1zM602 347h1v2h-1zM603 346h1v1h-1zM604 344h1v2h-1zM605 343h1v1h-1zM606 342h1v1h-1zM607 340h1v2h-1zM608 339h1v1h-1zM609 338h1v1h-1zM610 337h1v1h-1zM611 336h1v1h-1zM612 335h1v1h-1zM613 334h1v1h-1zM614 332h1v2h-1zM615 331h1v1h-1zM616 329h1v2h-1zM617 328h1v1h-1zM618 326h1v2h-1zM619 325h1v1h-1zM620 323h1v2h-1zM621 321h1v2h-1zM622 319h1v2h-1zM623 317h1v2h-1zM624 315h1v2h-1zM625 314h1v1h-1zM626 312h1v2h-1zM627 310h1v2h-1zM628 308h1v2h-1zM629 307h1v1h-1zM630 306h1v1h-1zM631 305h1v1h-1zM632 304h1v1h-1zM633 303h1v1h-1zM634 302h1v1h-1zM635 300h1v2h-1zM636 299h1v1h-1zM637 297h1v2h-1zM638 295h1v2h-1zM639 293h1v2h-1zM640 291h1v2h-1zM641 289h1v2h-1zM642 287h1v2h-1zM643 286h1v1h-1zM644 284h1v2h-1zM645 283h1v1h-1zM646 282h1v1h-1zM647 281h1v1h-1zM648 280h1v1h-1zM649 279h1v1h-1zM650 277h1v2h-1zM651 276h1v1h-1zM652 274h1v2h-1zM653 273h1v1h-1zM654 271h1v2h-1zM655 270h1v1h-1zM656 268h1v2h-1zM657 267h1v1h-1zM658 266h1v1h-1zM659 265h1v1h-1zM660 264h1v1h-1zM661 263h1v1h-1zM662 262h2v1h-2zM664 261h1v1h-1zM665 260h1v1h-1zM666 259h2v1h-2zM668 258h1v1h-1zM669 257h1v1h-1zM670 256h1v1h-1zM671 255h1v1h-1zM672 254h1v1h-1zM673 253h1v1h-1zM674 252h1v1h-1zM675 250h1v2h-1zM676 249h1v1h-1zM677 248h3v1h-3zM680 247h3v1h-3zM683 246h2v1h-2zM685 245h1v1h-1zM686 244h1v1h-1zM687 243h1v1h-1zM688 242h1v1h-1zM689 241h1v1h-1zM690 240h1v1h-1zM691 238h1v2h-1zM692 237h1v1h-1zM693 236h1v1h-1zM694 235h1v1h-1zM695 234h1v1h-1zM696 233h1v1h-1zM697 232h1v1h-1zM698 231h1v1h-1zM699 230h1v1h-1zM700 229h1v1h-1zM701 228h1v1h-1zM702 226h1v2h-1zM703 224h1v2h-1zM704 222h1v2h-1zM705 221h1v1h-1zM706 220h1v1h-1zM707 218h1v2h-1zM708 217h1v1h-1zM709 216h1v1h-1zM710 215h1v1h-1zM711 214h1v1h-1zM712 213h1v1h-1zM713 212h1v1h-1zM714 211h1v1h-1zM715 210h1v1h-1zM716 209h1v1h-1zM717 208h1v1h-1zM718 207h1v1h-1zM719 206h1v1h-1zM720 205h1v1h-1zM721 204h1v1h-1zM722 202h1v2h-1zM723 201h1v1h-1zM724 199h1v2h-1zM725 198h1v1h-1zM726 196h1v2h-1zM727 194h1v2h-1zM728 192h1v2h-1zM729 191h1v1h-1zM730 189h1v2h-1zM731 187h1v2h-1zM732 185h1v2h-1zM733 183h1v2h-1zM734 181h1v2h-1zM735 179h1v2h-1zM736 177h1v2h-1zM737 175h1v2h-1zM738 173h1v2h-1zM739 170h1v3h-1zM740 168h1v2h-1zM741 166h1v2h-1zM742 164h1v2h-1zM743 162h1v2h-1zM744 160h1v2h-1zM745 159h1v1h-1zM746 158h1v1h-1zM747 157h1v1h-1zM748 156h1v1h-1zM749 155h1v1h-1zM750 154h1v1h-1zM751 153h1v1h-1zM752 152h1v1h-1zM753 151h1v1h-1zM754 150h2v1h-2zM756 149h1v1h-1zM757 148h2v1h-2zM759 147h2v1h-2zM761 146h1v1h-1zM762 145h2v1h-2zM764 144h1v1h-1zM765 143h2v1h-2zM767 142h2v1h-2zM769 141h1v1h-1zM770 140h1v1h-1zM771 138h1v2h-1zM772 137h1v1h-1zM773 136h1v1h-1zM774 135h1v1h-1zM775 134h1v1h-1zM776 133h1v1h-1zM777 132h3v1h-3zM780 131h4v1h-4zM784 132h3v1h-3zM787 133h2v1h-2zM789 134h1v1h-1zM790 135h2v1h-2zM792 136h1v1h-1zM793 137h3v1h-3zM796 138h7v1h-7zM803 137h2v1h-2zM805 136h1v1h-1zM806 135h2v1h-2zM808 134h1v1h-1zM809 133h1v1h-1zM810 132h2v1h-2zM812 131h1v1h-1zM813 130h1v1h-1zM814 129h2v1h-2zM816 128h1v1h-1zM817 127h1v1h-1zM818 126h1v1h-1zM819 125h1v1h-1zM820 124h1v1h-1zM821 123h1v1h-1zM822 122h1v1h-1zM823 121h1v1h-1zM824 120h1v1h-1zM825 119h1v1h-1zM826 118h1v1h-1zM827 117h1v1h-1zM828 116h1v1h-1zM829 115h1v1h-1zM830 114h1v1h-1zM831 112h1v2h-1zM832 111h1v1h-1zM833 110h2v1h-2zM835 109h2v1h-2zM837 108h1v1h-1zM838 107h1v1h-1zM839 106h1v1h-1zM840 105h1v1h-1zM841 104h1v1h-1zM842 103h1v1h-1zM843 102h1v1h-1zM844 101h1v1h-1zM845 100h1v1h-1zM846 98h1v2h-1zM847 97h1v1h-1zM848 95h1v2h-1zM849 94h1v1h-1zM850 95h2v1h-2zM852 96h1v1h-1zM853 97h2v1h-2zM855 98h2v1h-2zM857 99h3v1h-3zM860 100h4v1h-4zM864 101h2v1h-2zM866 102h2v1h-2zM868 103h1v1h-1zM869 104h1v1h-1zM870 105h1v1h-1zM871 106h1v2h-1zM872 108h1v1h-1zM873 109h1v1h-1zM874 110h1v2h-1zM875 112h1v2h-1zM876 114h1v2h-1zM877 116h1v1h-1zM878 117h1v1h-1zM879 118h1v2h-1zM880 120h1v1h-1zM881 121h1v1h-1zM882 122h1v2h-1zM883 124h1v2h-1zM884 126h1v2h-1zM885 128h1v1h-1zM886 129h1v2h-1zM887 131h1v2h-1zM888 133h1v2h-1zM889 135h1v1h-1zM890 136h1v1h-1zM891 137h1v1h-1zM892 138h1v1h-1zM893 139h1v1h-1zM894 140h1v1h-1zM895 141h1v2h-1zM896 143h1v1h-1zM897 144h1v1h-1zM898 145h2v1h-2zM900 146h1v1h-1zM901 147h2v1h-2zM903 148h2v1h-2zM905 149h3v1h-3zM908 148h2v1h-2zM910 147h2v1h-2zM912 146h1v1h-1zM913 145h2v1h-2zM915 146h2v1h-2zM917 147h1v1h-1zM918 148h1v1h-1zM919 149h1v1h-1zM920 150h1v1h-1zM921 151h2v1h-2zM923 152h2v1h-2zM925 153h3v1h-3zM928 152h3v1h-3zM931 151h2v1h-2zM933 150h3v1h-3zM936 151h4v1h-4zM940 152h4v1h-4zM944 153h3v1h-3zM947 154h2v1h-2zM949 155h3v1h-3zM952 156h2v1h-2zM954 157h2v1h-2zM956 158h1v1h-1zM957 159h1v1h-1zM958 160h1v1h-1zM959 161h1v1h-1zM960 162h1v1h-1zM961 163h1v1h-1zM962 164h1v2h-1zM963 166h1v1h-1zM964 167h1v2h-1zM965 169h1v1h-1zM966 170h1v2h-1zM967 172h1v1h-1zM968 173h1v2h-1zM969 175h1v1h-1zM970 176h2v1h-2zM972 177h1v1h-1zM973 178h2v1h-2zM975 179h2v1h-2zM977 180h2v1h-2zM979 181h2v1h-2zM981 182h1v1h-1zM982 183h2v1h-2zM984 184h1v1h-1zM985 185h2v1h-2zM987 186h2v1h-2zM989 187h2v1h-2zM991 188h2v1h-2zM993 189h2v1h-2zM995 190h2v1h-2zM997 191h3v1h-3zM1000 192h3v1h-3zM1003 193h2v1h-2zM1005 194h3v1h-3zM1008 195h4v1h-4zM1012 196h4v1h-4zM1016 195h3v1h-3zM1019 194h2v1h-2zM1021 193h2v1h-2zM1023 192h2v1h-2zM1025 191h1v1h-1zM1026 190h2v1h-2zM1028 189h1v1h-1zM1029 188h1v1h-1zM1030 187h1v1h-1zM1031 186h1v1h-1zM1032 185h1v1h-1zM1033 184h1v1h-1zM1034 183h1v1h-1zM1035 181h1v2h-1zM1036 180h1v1h-1zM1037 179h1v1h-1zM1038 178h1v1h-1zM1039 176h1v2h-1zM1040 175h1v1h-1zM1041 174h1v1h-1zM1042 173h1v1h-1zM1043 172h1v1h-1zM1044 171h1v1h-1zM1045 170h1v1h-1zM1046 168h1v2h-1zM1047 166h1v2h-1zM1048 164h1v2h-1zM1049 163h1v1h-1zM1050 161h1v2h-1zM1051 160h1v1h-1zM1052 158h1v2h-1zM1053 157h1v1h-1zM1054 156h1v1h-1zM1055 154h1v2h-1zM1056 153h1v1h-1zM1057 152h1v1h-1zM1058 151h1v1h-1zM1059 150h1v1h-1zM1060 149h1v1h-1zM1061 148h1v1h-1zM1062 147h2v1h-2zM1064 146h1v1h-1zM1065 145h7v1h-7zM1072 146h7v1h-7zM1079 147h2v1h-2zM1081 148h2v1h-2zM1083 149h2v1h-2zM1085 150h1v1h-1zM1086 151h2v1h-2zM1088 152h1v1h-1zM1089 153h1v1h-1zM1090 154h1v1h-1zM1091 155h1v2h-1zM1092 157h1v1h-1zM1093 158h1v1h-1zM1094 159h1v1h-1zM1095 160h1v2h-1zM1096 162h1v1h-1zM1097 163h1v1h-1zM1098 164h1v1h-1zM1099 165h1v1h-1zM1100 166h1v1h-1zM1101 167h1v1h-1zM1102 168h1v1h-1zM1103 169h1v2h-1zM1104 171h1v1h-1zM1105 172h1v1h-1zM1106 173h1v1h-1zM1107 174h1v2h-1zM1108 176h1v1h-1zM1109 177h1v1h-1zM1110 178h1v1h-1zM1111 179h1v2h-1zM1112 181h1v1h-1zM1113 182h3v1h-3zM1116 183h3v1h-3zM1119 184h2v1h-2zM1121 185h3v1h-3zM1124 184h4v1h-4zM1128 183h4v1h-4zM1132 182h8v1h-8zM1140 181h4v1h-4zM1144 180h4v1h-4zM1148 179h4v1h-4zM1152 180h4v1h-4zM1156 181h4v1h-4zM1160 180h3v1h-3zM1163 179h2v1h-2zM1165 178h3v1h-3zM1168 177h7v1h-7zM1175 178h2v1h-2zM1177 179h3v1h-3zM1180 180h3v1h-3zM1183 181h2v1h-2zM1185 182h7v1h-7zM1192 181h3v1h-3zM1195 180h2v1h-2zM1197 179h2v1h-2zM1199 178h2v1h-2zM1201 177h2v1h-2zM1203 176h2v1h-2zM1205 175h3v1h-3zM1208 174h3v1h-3zM1211 173h2v1h-2zM1213 172h11v1h-11zM1224 173h4v1h-4zM1228 172h3v1h-3zM1231 171h2v1h-2zM1233 170h7v1h-7zM1240 169h3v1h-3zM1243 168h2v1h-2zM1245 167h2v1h-2zM1247 166h2v1h-2zM1249 165h2v1h-2zM1251 164h2v1h-2zM1253 163h3v1h-3zM1256 162h3v1h-3zM1259 161h2v1h-2zM1261 160h1v1h-1zM1262 159h1v1h-1zM1263 158h1v1h-1zM1264 157h1v1h-1zM1265 156h1v1h-1zM1266 155h2v1h-2zM1268 154h1v1h-1zM1269 153h1v1h-1z"/><path fill="#ffa500" d="M5 468h3v1h-3zM8 469h2v1h-2zM10 470h1v1h-1zM11 471h1v1h-1zM12 472h1v1h-1zM13 473h1v1h-1zM14 474h1v1h-1zM15 475h1v2h-1zM16 477h1v1h-1zM17 478h1v1h-1zM18 479h1v1h-1zM19 480h1v1h-1zM20 481h1v1h-1zM21 482h1v1h-1zM22 483h1v1h-1zM23 484h1v2h-1zM24 486h1v1h-1zM25 487h1v1h-1zM26 488h2v1h-2zM28 489h1v1h-1zM29 490h1v1h-1zM30 489h2v1h-2zM32 488h1v1h-1zM33 487h1v1h-1zM34 486h1v1h-1zM35 485h1v1h-1zM36 484h1v1h-1zM37 482h1v2h-1zM38 480h1v2h-1zM39 478h1v2h-1zM40 476h1v2h-1zM41 474h1v2h-1zM42 471h1v3h-1zM43 469h1v2h-1zM44 466h1v3h-1zM45 464h1v2h-1zM46 462h1v2h-1zM47 460h1v2h-1zM48 458h1v2h-1zM49 457h1v1h-1zM50 455h1v2h-1zM51 454h1v1h-1zM52 452h1v2h-1zM53 451h1v1h-1zM54 450h1v1h-1zM55 449h1v1h-1zM56 448h1v1h-1zM57 447h3v1h-3zM60 446h2v1h-2zM62 447h2v1h-2zM64 448h1v1h-1zM65 449h1v1h-1zM66 450h1v1h-1zM67 451h1v1h-1zM68 452h1v1h-1zM69 453h1v1h-1zM70 452h1v1h-1zM71 450h1v2h-1zM72 449h1v1h-1zM73 448h2v1h-2zM75 447h2v1h-2zM77 446h3v1h-3zM80 445h4v1h-4zM84 444h2v1h-2zM86 443h2v1h-2zM88 442h1v1h-1zM89 441h1v1h-1zM90 442h2v1h-2zM92 443h1v1h-1zM93 444h3v1h-3zM96 443h2v1h-2zM98 442h1v1h-1zM99 441h1v1h-1zM100 440h1v1h-1zM101 439h1v1h-1zM102 438h2v1h-2zM104 437h1v1h-1zM105 436h1v1h-1zM106 435h1v1h-1zM107 434h1v1h-1zM108 433h1v1h-1zM109 432h3v1h-3zM112 431h3v1h-3zM115 430h2v1h-2zM117 429h3v1h-3zM120 430h4v1h-4zM124 429h2v1h-2zM125 428h1v1h-1zM126 426h1v2h-1zM127 424h1v2h-1zM128 422h1v2h-1zM129 420h1v2h-1zM130 417h1v3h-1zM131 414h1v3h-1zM132 411h1v3h-1zM133 408h1v3h-1zM134 405h1v3h-1zM135 403h1v2h-1zM136 400h1v3h-1zM137 397h1v3h-1zM138 394h1v3h-1zM139 391h1v3h-1zM140 388h1v3h-1zM141 384h1v4h-1zM142 380h1v4h-1zM143 376h1v4h-1zM144 372h1v4h-1zM145 369h1v3h-1zM146 368h1v1h-1zM147 366h1v2h-1zM148 365h1v1h-1zM149 364h1v1h-1zM150 362h1v2h-1zM151 361h1v1h-1zM152 359h1v2h-1zM153 358h1v1h-1zM154 357h1v1h-1zM155 356h1v1h-1zM156 355h1v1h-1zM157 354h3v1h-3zM160 355h2v1h-2zM162 356h1v1h-1zM163 357h1v2h-1zM164 359h1v1h-1zM165 360h1v1h-1zM166 361h1v2h-1zM167 363h1v1h-1zM168 364h1v2h-1zM169 366h1v2h-1zM170 368h1v3h-1zM171 371h1v3h-1zM172 374h1v3h-1zM173 377h1v3h-1zM174 380h1v2h-1zM175 382h1v2h-1zM176 384h1v2h-1zM177 386h1v2h-1zM178 388h1v2h-1zM179 390h1v1h-1zM180 391h1v2h-1zM181 393h1v1h-1zM182 394h1v1h-1zM183 395h1v1h-1zM184 396h1v1h-1zM185 397h1v1h-1zM186 398h2v1h-2zM188 399h1v1h-1zM189 400h1v2h-1zM190 402h1v2h-1zM191 404h1v2h-1zM192 406h1v2h-1zM193 408h1v2h-1zM194 410h1v1h-1zM195 411h1v1h-1zM196 412h1v1h-1zM197 413h1v2h-1zM198 415h1v2h-1zM199 417h1v2h-1zM200 419h1v2h-1zM201 421h1v2h-1zM202 423h1v2h-1zM203 425h1v2h-1zM204 427h1v2h-1zM205 429h1v3h-1zM206 432h1v2h-1zM207 434h1v2h-1zM208 436h1v2h-1zM209 438h2v1h-2zM211 439h2v1h-2zM213 440h1v2h-1zM214 442h1v3h-1zM215 445h1v3h-1zM216 448h1v3h-1zM217 451h1v2h-1zM218 453h1v1h-1zM219 454h1v1h-1zM220 455h1v1h-1zM221 456h1v1h-1zM222 457h1v2h-1zM223 459h1v1h-1zM224 460h1v2h-1zM225 462h1v1h-1zM226 463h1v2h-1zM227 465h1v1h-1zM228 466h1v2h-1zM229 468h1v1h-1zM230 469h1v1h-1zM231 470h1v2h-1zM232 472h1v1h-1zM233 473h3v1h-3zM236 472h3v1h-3zM239 473h2v1h-2zM241 474h1v1h-1zM242 475h1v1h-1zM243 476h1v1h-1zM244 477h1v1h-1zM245 478h1v1h-1zM246 477h2v1h-2zM248 476h1v1h-1zM249 475h1v1h-1zM250 474h1v1h-1zM251 473h1v1h-1zM252 472h1v1h-1zM253 470h1v2h-1zM254 468h1v2h-1zM255 466h1v2h-1zM256 464h1v2h-1zM257 463h1v1h-1zM258 461h1v2h-1zM259 460h1v1h-1zM260 458h1v2h-1zM261 456h1v2h-1zM262 454h1v2h-1zM263 452h1v2h-1zM264 450h1v2h-1zM265 448h1v2h-1zM266 448h2v1h-2zM268 447h2v1h-2zM270 446h2v1h-2zM272 445h1v1h-1zM273 444h3v1h-3zM276 445h4v1h-4zM280 444h8v1h-8zM288 445h2v1h-2zM290 446h1v1h-1zM291 447h1v1h-1zM292 448h1v1h-1zM293 449h1v1h-1zM294 450h2v1h-2zM296 451h1v1h-1zM297 452h1v1h-1zM298 453h1v1h-1zM299 454h1v2h-1zM300 456h1v1h-1zM301 457h1v1h-1zM302 458h1v2h-1zM303 460h1v1h-1zM304 461h1v2h-1zM305 463h2v1h-2zM307 464h2v1h-2zM309 465h5v1h-5zM313 464h1v1h-1zM314 462h1v2h-1zM315 460h1v2h-1zM316 458h1v2h-1zM317 457h1v1h-1zM318 455h1v2h-1zM319 454h1v1h-1zM320 452h1v2h-1zM321 450h1v2h-1zM322 448h1v2h-1zM323 446h1v2h-1zM324 444h1v2h-1zM325 443h1v1h-1zM326 441h1v2h-1zM327 440h1v1h-1zM328 438h1v2h-1zM329 437h1v1h-1zM330 436h1v1h-1zM331 435h1v1h-1zM332 434h1v1h-1zM333 433h1v1h-1zM334 434h1v1h-1zM335 435h1v2h-1zM336 437h1v1h-1zM337 438h6v1h-6zM343 439h2v1h-2zM345 440h1v1h-1zM346 441h1v1h-1zM347 442h1v2h-1zM348 444h1v1h-1zM349 445h1v1h-1zM350 446h1v2h-1zM351 448h1v1h-1zM352 449h1v2h-1zM353 451h1v1h-1zM354 452h1v1h-1zM355 453h1v1h-1zM356 454h1v1h-1zM357 455h1v1h-1zM358 456h1v2h-1zM359 458h1v2h-1zM360 460h1v2h-1zM361 462h1v1h-1zM362 463h1v2h-1zM363 465h1v2h-1zM364 467h1v2h-1zM365 469h2v1h-2zM367 470h2v1h-2zM369 471h3v1h-3zM372 472h10v1h-10zM382 471h2v1h-2zM384 470h1v1h-1zM385 469h1v1h-1zM386 468h1v1h-1zM387 466h1v2h-1zM388 465h1v1h-1zM389 464h2v1h-2zM391 463h2v1h-2zM393 462h3v1h-3zM396 461h3v1h-3zM399 460h2v1h-2zM401 459h3v1h-3zM404 458h2v1h-2zM406 459h2v1h-2zM408 460h1v1h-1zM409 461h1v1h-1zM410 460h1v1h-1zM411 458h1v2h-1zM412 457h1v1h-1zM413 455h1v2h-1zM414 452h1v3h-1zM415 448h1v4h-1zM416 445h1v3h-1zM417 442h1v3h-1zM418 439h1v3h-1zM419 436h1v3h-1zM420 433h1v3h-1zM421 430h1v3h-1zM422 427h1v3h-1zM423 423h1v4h-1zM424 420h1v3h-1zM425 417h1v3h-1zM426 413h1v4h-1zM427 410h1v3h-1zM428 406h1v4h-1zM429 403h1v3h-1zM430 400h1v3h-1zM431 397h1v3h-1zM432 394h1v3h-1zM433 392h1v2h-1zM434 391h1v1h-1zM435 390h1v1h-1zM436 389h1v1h-1zM437 388h2v1h-2zM439 387h2v1h-2zM441 386h2v1h-2zM443 385h2v1h-2zM445 384h1v1h-1zM446 383h1v1h-1zM447 382h1v1h-1zM448 381h1v1h-1zM449 380h6v1h-6zM455 379h2v1h-2zM457 378h1v1h-1zM458 376h1v2h-1zM459 375h1v1h-1zM460 373h1v2h-1zM461 372h1v1h-1zM462 370h1v2h-1zM463 368h1v2h-1zM464 366h1v2h-1zM465 365h1v1h-1zM466 364h1v1h-1zM467 362h1v2h-1zM468 361h1v1h-1zM469 360h2v1h-2zM471 359h2v1h-2zM473 358h3v1h-3zM476 357h2v1h-2zM478 358h2v1h-2zM480 359h1v1h-1zM481 360h3v1h-3zM484 359h2v1h-2zM486 360h1v1h-1zM487 361h1v1h-1zM488 362h1v1h-1zM489 363h3v1h-3zM492 364h3v1h-3zM495 365h2v1h-2zM497 366h1v1h-1zM498 367h1v1h-1zM499 368h1v1h-1zM500 369h1v1h-1zM501 370h1v2h-1zM502 372h1v3h-1zM503 375h1v4h-1zM504 379h1v3h-1zM505 382h1v2h-1zM506 384h1v2h-1zM507 386h1v2h-1zM508 388h1v2h-1zM509 390h1v2h-1zM510 392h1v2h-1zM511 394h1v2h-1zM512 396h1v2h-1zM513 398h1v1h-1zM514 399h1v2h-1zM515 401h1v1h-1zM516 402h1v2h-1zM517 404h1v1h-1zM518 405h1v1h-1zM519 406h1v2h-1zM520 408h1v1h-1zM521 409h2v1h-2zM523 410h2v1h-2zM525 411h15v1h-15zM540 410h2v1h-2zM542 409h1v1h-1zM543 408h1v1h-1zM544 407h1v1h-1zM545 406h1v1h-1zM546 405h2v1h-2zM548 404h1v1h-1zM549 402h1v2h-1zM550 400h1v2h-1zM551 397h1v3h-1zM552 395h1v2h-1zM553 392h1v3h-1zM554 389h1v3h-1zM555 387h1v2h-1zM556 384h1v3h-1zM557 381h1v3h-1zM558 379h1v2h-1zM559 376h1v3h-1zM560 374h1v2h-1zM561 371h1v3h-1zM562 369h1v2h-1zM563 366h1v3h-1zM564 364h1v2h-1zM565 362h1v2h-1zM566 360h1v2h-1zM567 359h1v1h-1zM568 357h1v2h-1zM569 356h3v1h-3zM572 357h2v1h-2zM574 355h1v2h-1zM575 354h1v1h-1zM576 352h1v2h-1zM577 351h1v1h-1zM578 350h2v1h-2zM580 349h1v1h-1zM581 348h2v1h-2zM583 349h2v1h-2zM585 350h1v1h-1zM586 349h1v1h-1zM587 348h1v1h-1zM588 347h1v1h-1zM589 345h1v2h-1zM590 343h1v2h-1zM591 341h1v2h-1zM592 339h1v2h-1zM593 337h1v2h-1zM594 337h1v1h-1zM595 338h2v1h-2zM597 339h1v1h-1zM598 338h2v1h-2zM600 337h1v1h-1zM601 335h1v2h-1zM602 333h1v2h-1zM603 330h1v3h-1zM604 328h1v2h-1zM605 325h1v3h-1zM606 323h1v2h-1zM607 321h1v2h-1zM608 319h1v2h-1zM609 317h1v2h-1zM610 315h1v2h-1zM611 314h1v1h-1zM612 312h1v2h-1zM613 310h1v2h-1zM614 307h1v3h-1zM615 305h1v2h-1zM616 302h1v3h-1zM617 299h1v3h-1zM618 296h1v3h-1zM619 293h1v3h-1zM620 290h1v3h-1zM621 287h1v3h-1zM622 284h1v3h-1zM623 280h1v4h-1zM624 277h1v3h-1zM625 275h1v2h-1zM626 273h1v2h-1zM627 272h1v1h-1zM628 270h1v2h-1zM629 269h1v1h-1zM630 268h1v1h-1zM631 266h1v2h-1zM632 265h1v1h-1zM633 264h3v1h-3zM636 263h2v1h-2zM638 262h1v1h-1zM639 260h1v2h-1zM640 259h1v1h-1zM641 258h3v1h-3zM644 257h3v1h-3zM647 258h2v1h-2zM649 259h1v1h-1zM650 258h1v1h-1zM651 257h1v1h-1zM652 256h1v1h-1zM653 255h1v1h-1zM654 254h2v1h-2zM656 253h1v1h-1zM657 252h7v1h-7zM664 253h2v1h-2zM666 252h1v1h-1zM667 251h1v1h-1zM668 250h1v1h-1zM669 249h1v1h-1zM670 248h1v1h-1zM671 246h1v2h-1zM672 245h1v1h-1zM673 243h1v2h-1zM674 241h1v2h-1zM675 239h1v2h-1zM676 237h1v2h-1zM677 235h1v2h-1zM678 234h1v1h-1zM679 233h1v1h-1zM680 232h1v1h-1zM681 231h1v1h-1zM682 230h1v1h-1zM683 228h1v2h-1zM684 227h1v1h-1zM685 225h1v2h-1zM686 223h1v2h-1zM687 221h1v2h-1zM688 219h1v2h-1zM689 218h1v1h-1zM690 217h2v1h-2zM692 216h1v1h-1zM693 215h1v1h-1zM694 214h1v1h-1zM695 213h1v1h-1zM696 212h1v1h-1zM697 211h1v1h-1zM698 209h1v2h-1zM699 208h1v1h-1zM700 206h1v2h-1zM701 204h1v2h-1zM702 201h1v3h-1zM703 199h1v2h-1zM704 196h1v3h-1zM705 194h1v2h-1zM706 192h1v2h-1zM707 190h1v2h-1zM708 188h1v2h-1zM709 187h1v1h-1zM710 186h2v1h-2zM712 185h1v1h-1zM713 184h3v1h-3zM716 185h4v1h-4zM720 186h3v1h-3zM723 185h2v1h-2zM725 183h1v2h-1zM726 180h1v3h-1zM727 178h1v2h-1zM728 175h1v3h-1zM729 172h1v3h-1zM730 168h1v4h-1zM731 164h1v4h-1zM732 160h1v4h-1zM733 157h1v3h-1zM734 153h1v4h-1zM735 149h1v4h-1zM736 145h1v4h-1zM737 141h1v4h-1zM738 135h1v6h-1zM739 129h1v6h-1zM740 123h1v6h-1zM741 119h1v4h-1zM742 117h1v2h-1zM743 115h1v2h-1zM744 113h1v2h-1zM745 111h1v2h-1zM746 112h1v1h-1zM747 113h1v1h-1zM748 114h1v1h-1zM749 115h1v1h-1zM750 116h1v1h-1zM751 117h1v2h-1zM752 119h1v1h-1zM753 120h1v1h-1zM754 121h1v1h-1zM755 122h1v2h-1zM756 124h1v1h-1zM757 125h1v2h-1zM758 127h1v3h-1zM759 130h1v2h-1zM760 132h1v3h-1zM761 135h1v2h-1zM762 137h1v1h-1zM763 138h1v2h-1zM764 140h1v1h-1zM765 141h1v1h-1zM766 142h1v1h-1zM767 143h1v1h-1zM768 144h1v1h-1zM769 145h2v1h-2zM771 144h2v1h-2zM773 143h7v1h-7zM780 142h4v1h-4zM784 143h2v1h-2zM786 142h2v1h-2zM788 141h1v1h-1zM789 140h1v1h-1zM790 141h1v1h-1zM791 142h1v2h-1zM792 144h1v1h-1zM793 144h1v2h-1zM794 142h1v2h-1zM795 140h1v2h-1zM796 138h1v2h-1zM797 137h1v1h-1zM798 135h1v2h-1zM799 133h1v2h-1zM800 131h1v2h-1zM801 130h1v1h-1zM802 128h1v2h-1zM803 127h1v1h-1zM804 125h1v2h-1zM805 124h1v1h-1zM806 122h1v2h-1zM807 121h1v1h-1zM808 119h1v2h-1zM809 117h1v2h-1zM810 114h1v3h-1zM811 110h1v4h-1zM812 107h1v3h-1zM813 105h1v2h-1zM814 105h2v1h-2zM816 104h2v1h-2zM818 103h2v1h-2zM820 102h1v1h-1zM821 101h1v1h-1zM822 100h2v1h-2zM824 99h1v1h-1zM825 98h1v1h-1zM826 96h1v2h-1zM827 94h1v2h-1zM828 92h1v2h-1zM829 91h1v1h-1zM830 90h2v1h-2zM832 89h1v1h-1zM833 88h2v1h-2zM835 89h2v1h-2zM837 90h1v1h-1zM838 89h2v1h-2zM840 88h1v1h-1zM841 87h2v1h-2zM843 86h2v1h-2zM845 85h3v1h-3zM848 86h2v1h-2zM849 87h1v1h-1zM850 88h1v3h-1zM851 91h1v3h-1zM852 94h1v3h-1zM853 97h1v3h-1zM854 100h1v2h-1zM855 102h1v2h-1zM856 104h1v2h-1zM857 106h1v2h-1zM858 108h1v2h-1zM859 110h1v2h-1zM860 112h1v2h-1zM861 114h1v3h-1zM862 117h1v2h-1zM863 119h1v2h-1zM864 121h1v2h-1zM865 123h1v2h-1zM866 125h1v2h-1zM867 127h1v3h-1zM868 130h1v2h-1zM869 132h1v2h-1zM870 134h1v2h-1zM871 136h1v1h-1zM872 137h1v2h-1zM873 139h1v2h-1zM874 141h1v2h-1zM875 143h1v2h-1zM876 145h1v2h-1zM877 147h1v2h-1zM878 149h1v2h-1zM879 151h1v2h-1zM880 153h1v2h-1zM881 155h1v2h-1zM882 157h1v3h-1zM883 160h1v3h-1zM884 163h1v3h-1zM885 166h1v3h-1zM886 169h1v2h-1zM887 171h1v2h-1zM888 173h1v2h-1zM889 175h1v1h-1zM890 174h2v1h-2zM892 173h1v1h-1zM893 172h1v1h-1zM894 171h1v1h-1zM895 169h1v2h-1zM896 168h1v1h-1zM897 166h1v2h-1zM898 164h1v2h-1zM899 162h1v2h-1zM900 160h1v2h-1zM901 158h1v2h-1zM902 154h1v4h-1zM903 151h1v3h-1zM904 147h1v4h-1zM905 144h1v3h-1zM906 141h1v3h-1zM907 138h1v3h-1zM908 135h1v3h-1zM909 132h1v3h-1zM910 130h1v2h-1zM911 128h1v2h-1zM912 126h1v2h-1zM913 125h5v1h-5zM917 126h1v1h-1zM918 127h1v2h-1zM919 129h1v2h-1zM920 131h1v2h-1zM921 133h1v2h-1zM922 135h1v2h-1zM923 137h1v2h-1zM924 139h1v2h-1zM925 141h1v3h-1zM926 144h1v2h-1zM927 146h1v2h-1zM928 148h1v2h-1zM929 150h1v3h-1zM930 153h1v2h-1zM931 155h1v2h-1zM932 157h1v2h-1zM933 159h1v2h-1zM934 161h1v1h-1zM935 162h1v2h-1zM936 164h1v1h-1zM937 165h1v1h-1zM938 166h1v1h-1zM939 167h1v2h-1zM940 169h1v1h-1zM941 170h1v1h-1zM942 171h1v2h-1zM943 173h1v1h-1zM944 174h1v2h-1zM945 176h1v1h-1zM946 177h2v1h-2zM948 178h1v1h-1zM949 179h1v1h-1zM950 180h1v1h-1zM951 181h1v2h-1zM952 183h1v1h-1zM953 184h1v1h-1zM954 183h2v1h-2zM956 182h1v1h-1zM957 181h1v1h-1zM958 180h1v1h-1zM959 179h1v1h-1zM960 178h1v1h-1zM961 177h3v1h-3zM964 178h2v1h-2zM966 179h2v1h-2zM968 180h1v1h-1zM969 181h1v1h-1zM970 182h1v1h-1zM971 183h1v1h-1zM972 184h1v1h-1zM973 185h1v1h-1zM974 186h1v2h-1zM975 188h1v1h-1zM976 189h1v2h-1zM977 191h1v1h-1zM978 192h1v1h-1zM979 193h1v2h-1zM980 195h1v1h-1zM981 196h3v1h-3zM984 195h7v1h-7zM991 196h2v1h-2zM993 197h1v1h-1zM994 198h2v1h-2zM996 199h1v1h-1zM997 200h1v1h-1zM998 201h2v1h-2zM1000 202h1v1h-1zM1001 203h1v1h-1zM1002 204h2v1h-2zM1004 205h1v1h-1zM1005 206h3v1h-3zM1008 207h2v1h-2zM1009 206h1v1h-1zM1010 204h1v2h-1zM1011 202h1v2h-1zM1012 200h1v2h-1zM1013 198h1v2h-1zM1014 195h1v3h-1zM1015 193h1v2h-1zM1016 190h1v3h-1zM1017 187h1v3h-1zM1018 185h1v2h-1zM1019 183h1v2h-1zM1020 181h1v2h-1zM1021 179h1v2h-1zM1022 177h1v2h-1zM1023 175h1v2h-1zM1024 173h1v2h-1zM1025 172h1v1h-1zM1026 170h1v2h-1zM1027 168h1v2h-1zM1028 166h1v2h-1zM1029 165h1v1h-1zM1030 164h1v1h-1zM1031 162h1v2h-1zM1032 161h1v1h-1zM1033 159h1v2h-1zM1034 157h1v2h-1zM1035 155h1v2h-1zM1036 153h1v2h-1zM1037 150h1v3h-1zM1038 148h1v2h-1zM1039 146h1v2h-1zM1040 144h1v2h-1zM1041 142h1v2h-1zM1042 140h1v2h-1zM1043 138h1v2h-1zM1044 136h1v2h-1zM1045 134h1v2h-1zM1046 132h1v2h-1zM1047 130h1v2h-1zM1048 128h1v2h-1zM1049 127h1v1h-1zM1050 126h2v1h-2zM1052 125h1v1h-1zM1053 124h1v1h-1zM1054 125h2v1h-2zM1056 126h1v1h-1zM1057 127h1v2h-1zM1058 129h1v2h-1zM1059 131h1v2h-1zM1060 133h1v2h-1zM1061 135h1v1h-1zM1062 136h1v1h-1zM1063 137h1v1h-1zM1064 138h1v1h-1zM1065 139h1v2h-1zM1066 141h1v2h-1zM1067 143h1v2h-1zM1068 145h1v2h-1zM1069 147h1v3h-1zM1070 150h1v2h-1zM1071 152h1v2h-1zM1072 154h1v2h-1zM1073 156h1v3h-1zM1074 159h1v2h-1zM1075 161h1v2h-1zM1076 163h1v2h-1zM1077 165h1v1h-1zM1078 166h1v1h-1zM1079 167h1v2h-1zM1080 169h1v1h-1zM1081 170h1v2h-1zM1082 172h1v2h-1zM1083 174h1v2h-1zM1084 176h1v2h-1zM1085 178h1v1h-1zM1086 179h1v1h-1zM1087 180h1v1h-1zM1088 181h1v1h-1zM1089 182h1v1h-1zM1090 183h1v1h-1zM1091 184h1v1h-1zM1092 185h1v1h-1zM1093 186h1v1h-1zM1094 187h1v1h-1zM1095 188h1v1h-1zM1096 189h1v1h-1zM1097 190h7v1h-7zM1104 189h3v1h-3zM1107 190h2v1h-2zM1109 191h3v1h-3zM1112 192h4v1h-4zM1116 191h2v1h-2zM1118 190h2v1h-2zM1120 189h1v1h-1zM1121 188h1v1h-1zM1122 187h1v1h-1zM1123 185h1v2h-1zM1124 184h1v1h-1zM1125 182h1v2h-1zM1126 179h1v3h-1zM1127 177h1v2h-1zM1128 174h1v3h-1zM1129 172h1v2h-1zM1130 171h1v1h-1zM1131 169h1v2h-1zM1132 168h1v1h-1zM1133 167h3v1h-3zM1136 166h4v1h-4zM1140 167h3v1h-3zM1143 168h2v1h-2zM1145 169h1v1h-1zM1146 170h1v2h-1zM1147 172h1v2h-1zM1148 174h1v2h-1zM1149 176h1v1h-1zM1150 177h1v2h-1zM1151 179h1v2h-1zM1152 181h1v2h-1zM1153 183h1v1h-1zM1154 184h2v1h-2zM1156 185h1v1h-1zM1157 186h7v1h-7zM1164 187h4v1h-4zM1168 186h3v1h-3zM1171 185h2v1h-2zM1173 184h9v1h-9zM1182 183h2v1h-2zM1184 182h1v1h-1zM1185 181h3v1h-3zM1188 180h2v1h-2zM1190 179h1v1h-1zM1191 177h1v2h-1zM1192 176h1v1h-1zM1193 175h1v1h-1zM1194 173h1v2h-1zM1195 171h1v2h-1zM1196 169h1v2h-1zM1197 168h1v1h-1zM1198 166h1v2h-1zM1199 164h1v2h-1zM1200 162h1v2h-1zM1201 161h2v1h-2zM1203 160h2v1h-2zM1205 159h2v1h-2zM1207 160h2v1h-2zM1209 161h2v1h-2zM1211 162h2v1h-2zM1213 163h1v1h-1zM1214 164h2v1h-2zM1216 165h1v1h-1zM1217 166h1v1h-1zM1218 167h1v2h-1zM1219 169h1v2h-1zM1220 171h1v2h-1zM1221 173h1v1h-1zM1222 174h1v2h-1zM1223 176h1v1h-1zM1224 177h1v2h-1zM1225 179h7v1h-7zM1232 178h4v1h-4zM1236 179h2v1h-2zM1238 177h1v2h-1zM1239 176h1v1h-1zM1240 174h1v2h-1zM1241 172h1v2h-1zM1242 170h1v2h-1zM1243 168h1v2h-1zM1244 166h1v2h-1zM1245 163h1v3h-1zM1246 161h1v2h-1zM1247 159h1v2h-1zM1248 157h1v2h-1zM1249 155h1v2h-1zM1250 153h1v2h-1zM1251 150h1v3h-1zM1252 148h1v2h-1zM1253 145h1v3h-1zM1254 143h1v2h-1zM1255 141h1v2h-1zM1256 139h1v2h-1zM1257 137h1v2h-1zM1258 136h1v1h-1zM1259 135h1v1h-1zM1260 134h1v1h-1zM1261 133h1v1h-1zM1262 132h2v1h-2zM1264 131h1v1h-1zM1265 130h1v1h-1zM1266 129h2v1h-2zM1268 128h1v1h-1zM1269 127h1v1h-1z"/><path fill="#c0c0c0" d="M6 564h3v1h-3zM12 564h3v1h-3zM18 564h3v1h-3zM24 564h3v1h-3zM30 564h3v1h-3zM36 564h3v1h-3zM42 564h3v1h-3zM48 564h3v1h-3zM54 564h3v1h-3zM60 564h3v1h-3zM66 564h3v1h-3zM72 564h3v1h-3zM78 564h3v1h-3zM84 564h3v1h-3zM90 564h3v1h-3zM96 564h3v1h-3zM102 564h3v1h-3zM108 564h3v1h-3zM114 564h3v1h-3zM120 564h3v1h-3zM126 564h3v1h-3zM132 564h3v1h-3zM138 564h3v1h-3zM144 564h3v1h-3zM150 564h3v1h-3zM156 564h3v1h-3zM162 564h3v1h-3zM168 564h3v1h-3zM174 564h3v1h-3zM180 564h3v1h-3zM186 564h3v1h-3zM192 564h3v1h-3zM198 564h3v1h-3zM204 564h3v1h-3zM210 564h3v1h-3zM216 564h3v1h-3zM222 564h3v1h-3zM228 564h3v1h-3zM234 564h3v1h-3zM240 564h3v1h-3zM246 564h3v1h-3zM252 564h3v1h-3zM258 564h3v1h-3zM264 564h3v1h-3zM270 564h3v1h-3zM276 564h3v1h-3zM282 564h3v1h-3zM288 564h3v1h-3zM294 564h3v1h-3zM300 564h3v1h-3zM306 564h3v1h-3zM312 564h3v1h-3zM318 564h3v1h-3zM324 564h3v1h-3zM330 564h3v1h-3zM336 564h3v1h-3zM342 564h3v1h-3zM348 564h3v1h-3zM354 564h3v1h-3zM360 564h3v1h-3zM366 564h3v1h-3zM372 564h3v1h-3zM378 564h3v1h-3zM384 564h3v1h-3zM390 564h3v1h-3zM396 564h3v1h-3zM402 564h3v1h-3zM408 564h3v1h-3zM414 564h3v1h-3zM420 564h3v1h-3zM426 564h3v1h-3zM432 564h3v1h-3zM438 564h3v1h-3zM444 564h3v1h-3zM450 564h3v1h-3zM456 564h3v1h-3zM462 564h3v1h-3zM468 564h3v1h-3zM474 564h3v1h-3zM480 564h3v1h-3zM486 564h3v1h-3zM492 564h3v1h-3zM498 564h3v1h-3zM504 564h3v1h-3zM510 564h3v1h-3zM516 564h3v1h-3zM522 564h3v1h-3zM528 564h3v1h-3zM534 564h3v1h-3zM540 564h3v1h-3zM546 564h3v1h-3zM552 564h3v1h-3zM558 564h3v1h-3zM564 564h3v1h-3zM570 564h3v1h-3zM576 564h3v1h-3zM582 564h3v1h-3zM588 564h3v1h-3zM594 564h3v1h-3zM600 564h3v1h-3zM606 564h3v1h-3zM612 564h3v1h-3zM618 564h3v1h-3zM624 564h3v1h-3zM630 564h3v1h-3zM636 564h3v1h-3zM642 564h3v1h-3zM648 564h3v1h-3zM654 564h3v1h-3zM660 564h3v1h-3zM666 564h3v1h-3zM672 564h3v1h-3zM678 564h3v1h-3zM684 564h3v1h-3zM690 564h3v1h-3zM696 564h3v1h-3zM702 564h3v1h-3zM708 564h3v1h-3zM714 564h3v1h-3zM720 564h3v1h-3zM726 564h3v1h-3zM732 564h3v1h-3zM738 564h3v1h-3zM744 564h3v1h-3zM750 564h3v1h-3zM756 564h3v1h-3zM762 564h3v1h-3zM768 564h3v1h-3zM774 564h3v1h-3zM780 564h3v1h-3zM786 564h3v1h-3zM792 564h3v1h-3zM798 564h3v1h-3zM804 564h3v1h-3zM810 564h3v1h-3zM816 564h3v1h-3zM822 564h3v1h-3zM828 564h3v1h-3zM834 564h3v1h-3zM840 564h3v1h-3zM846 564h3v1h-3zM852 564h3v1h-3zM858 564h3v1h-3zM864 564h3v1h-3zM870 564h3v1h-3zM876 564h3v1h-3zM882 564h3v1h-3zM888 564h3v1h-3zM894 564h3v1h-3zM900 564h3v1h-3zM906 564h3v1h-3zM912 564h3v1h-3zM918 564h3v1h-3zM924 564h3v1h-3zM930 564h3v1h-3zM936 564h3v1h-3zM942 564h3v1h-3zM948 564h3v1h-3zM954 564h3v1h-3zM960 564h3v1h-3zM966 564h3v1h-3zM972 564h3v1h-3zM978 564h3v1h-3zM984 564h3v1h-3zM990 564h3v1h-3zM996 564h3v1h-3zM1002 564h3v1h-3zM1008 564h3v1h-3zM1014 564h3v1h-3zM1020 564h3v1h-3zM1026 564h3v1h-3zM1032 564h3v1h-3zM1038 564h3v1h-3zM1044 564h3v1h-3zM1050 564h3v1h-3zM1056 564h3v1h-3zM1062 564h3v1h-3zM1068 564h3v1h-3zM1074 564h3v1h-3zM1080 564h3v1h-3zM1086 564h3v1h-3zM1092 564h3v1h-3zM1098 564h3v1h-3zM1104 564h3v1h-3zM1110 564h3v1h-3zM1116 564h3v1h-3zM1122 564h3v1h-3zM1128 564h3v1h-3zM1134 564h3v1h-3zM1140 564h3v1h-3zM1146 564h3v1h-3zM1152 564h3v1h-3zM1158 564h3v1h-3zM1164 564h3v1h-3zM1170 564h3v1h-3zM1176 564h3v1h-3zM1182 564h3v1h-3zM1188 564h3v1h-3zM1194 564h3v1h-3zM1200 564h3v1h-3zM1206 564h3v1h-3zM1212 564h3v1h-3zM1218 564h3v1h-3zM1224 564h3v1h-3zM1230 564h3v1h-3zM1236 564h3v1h-3zM1242 564h3v1h-3zM1248 564h3v1h-3zM1254 564h3v1h-3zM1260 564h3v1h-3zM1266 564h3v1h-3zM1272 564h3v1h-3zM1278 564h3v1h-3zM1284 564h3v1h-3zM1290 564h3v1h-3zM1296 564h3v1h-3zM1302 564h3v1h-3zM1308 564h3v1h-3zM1314 564h3v1h-3zM1320 564h3v1h-3zM1326 564h3v1h-3zM1332 564h3v1h-3zM1338 564h3v1h-3zM1344 564h3v1h-3zM1350 564h3v1h-3zM1356 564h3v1h-3zM1362 564h3v1h-3zM1368 564h3v1h-3zM1374 564h3v1h-3zM1380 564h3v1h-3zM1386 564h3v1h-3zM1392 564h3v1h-3zM1398 564h3v1h-3zM1404 564h3v1h-3zM1410 564h3v1h-3zM1416 564h3v1h-3zM1422 564h3v1h-3zM1428 564h3v1h-3zM1434 564h3v1h-3zM1440 564h3v1h-3zM1446 564h3v1h-3zM1452 564h3v1h-3zM1458 564h3v1h-3zM1464 564h3v1h-3zM1470 564h3v1h-3zM1476 564h3v1h-3zM1482 564h3v1h-3zM1488 564h3v1h-3zM1494 564h3v1h-3zM1500 564h3v1h-3zM1506 564h3v1h-3zM1512 564h3v1h-3zM1518 564h3v1h-3zM1524 564h3v1h-3zM1530 564h3v1h-3zM1536 564h3v1h-3zM1542 564h3v1h-3zM1548 564h3v1h-3zM1554 564h3v1h-3zM1560 564h3v1h-3zM1566 564h3v1h-3zM1572 564h3v1h-3zM1578 564h3v1h-3zM1584 564h3v1h-3zM1590 564h3v1h-3zM1596 564h1v1h-1z"/><path fill="#c0c0c0" d="M6 600h3v1h-3zM12 600h3v1h-3zM18 600h3v1h-3zM24 600h3v1h-3zM30 600h3v1h-3zM36 600h3v1h-3zM42 600h3v1h-3zM48 600h3v1h-3zM54 600h3v1h-3zM60 600h3v1h-3zM66 600h3v1h-3zM72 600h3v1h-3zM78 600h3v1h-3zM84 600h3v1h-3zM90 600h3v1h-3zM96 600h3v1h-3zM102 600h3v1h-3zM108 600h3v1h-3zM114 600h3v1h-3zM120 600h3v1h-3zM126 600h3v1h-3zM132 600h3v1h-3zM138 600h3v1h-3zM144 600h3v1h-3zM150 600h3v1h-3zM156 600h3v1h-3zM162 600h3v1h-3zM168 600h3v1h-3zM174 600h3v1h-3zM180 600h3v1h-3zM186 600h3v1h-3zM192 600h3v1h-3zM198 600h3v1h-3zM204 600h3v1h-3zM210 600h3v1h-3zM216 600h3v1h-3zM222 600h3v1h-3zM228 600h3v1h-3zM234 600h3v1h-3zM240 600h3v1h-3zM246 600h3v1h-3zM252 600h3v1h-3zM258 600h3v1h-3zM264 600h3v1h-3zM270 600h3v1h-3zM276 600h3v1h-3zM282 600h3v1h-3zM288 600h3v1h-3zM294 600h3v1h-3zM300 600h3v1h-3zM306 600h3v1h-3zM312 600h3v1h-3zM318 600h3v1h-3zM324 600h3v1h-3zM330 600h3v1h-3zM336 600h3v1h-3zM342 600h3v1h-3zM348 600h3v1h-3zM354 600h3v1h-3zM360 600h3v1h-3zM366 600h3v1h-3zM372 600h3v1h-3zM378 600h3v1h-3zM384 600h3v1h-3zM390 600h3v1h-3zM396 600h3v1h-3zM402 600h3v1h-3zM408 600h3v1h-3zM414 600h3v1h-3zM420 600h3v1h-3zM426 600h3v1h-3zM432 600h3v1h-3zM438 600h3v1h-3zM444 600h3v1h-3zM450 600h3v1h-3zM456 600h3v1h-3zM462 600h3v1h-3zM468 600h3v1h-3zM474 600h3v1h-3zM480 600h3v1h-3zM486 600h3v1h-3zM492 600h3v1h-3zM498 600h3v1h-3zM504 600h3v1h-3zM510 600h3v1h-3zM516 600h3v1h-3zM522 600h3v1h-3zM528 600h3v1h-3zM534 600h3v1h-3zM540 600h3v1h-3zM546 600h3v1h-3zM552 600h3v1h-3zM558 600h3v1h-3zM564 600h3v1h-3zM570 600h3v1h-3zM576 600h3v1h-3zM582 600h3v1h-3zM588 600h3v1h-3zM594 600h3v1h-3zM600 600h3v1h-3zM606 600h3v1h-3zM612 600h3v1h-3zM618 600h3v1h-3zM624 600h3v1h-3zM630 600h3v1h-3zM636 600h3v1h-3zM642 600h3v1h-3zM648 600h3v1h-3zM654 600h3v1h-3zM660 600h3v1h-3zM666 600h3v1h-3zM672 600h3v1h-3zM678 600h3v1h-3zM684 600h3v1h-3zM690 600h3v1h-3zM696 600h3v1h-3zM702 600h3v1h-3zM708 600h3v1h-3zM714 600h3v1h-3zM720 600h3v1h-3zM726 600h3v1h-3zM732 600h3v1h-3zM738 600h3v1h-3zM744 600h3v1h-3zM750 600h3v1h-3zM756 600h3v1h-3zM762 600h3v1h-3zM768 600h3v1h-3zM774 600h3v1h-3zM780 600h3v1h-3zM786 600h3v1h-3zM792 600h3v1h-3zM798 600h3v1h-3zM804 600h3v1h-3zM810 600h3v1h-3zM816 600h3v1h-3zM822 600h3v1h-3zM828 600h3v1h-3zM834 600h3v1h-3zM840 600h3v1h-3zM846 600h3v1h-3zM852 600h3v1h-3zM858 600h3v1h-3zM864 600h3v1h-3zM870 600h3v1h-3zM876 600h3v1h-3zM882 600h3v1h-3zM888 600h3v1h-3zM894 600h3v1h-3zM900 600h3v1h-3zM906 600h3v1h-3zM912 600h3v1h-3zM918 600h3v1h-3zM924 600h3v1h-3zM930 600h3v1h-3zM936 600h3v1h-3zM942 600h3v1h-3zM948 600h3v1h-3zM954 600h3v1h-3zM960 600h3v1h-3zM966 600h3v1h-3zM972 600h3v1h-3zM978 600h3v1h-3zM984 600h3v1h-3zM990 600h3v1h-3zM996 600h3v1h-3zM1002 600h3v1h-3zM1008 600h3v1h-3zM1014 600h3v1h-3zM1020 600h3v1h-3zM1026 600h3v1h-3zM1032 600h3v1h-3zM1038 600h3v1h-3zM1044 600h3v1h-3zM1050 600h3v1h-3zM1056 600h3v1h-3zM1062 600h3v1h-3zM1068 600h3v1h-3zM1074 600h3v1h-3zM1080 600h3v1h-3zM1086 600h3v1h-3zM1092 600h3v1h-3zM1098 600h3v1h-3zM1104 600h3v1h-3zM1110 600h3v1h-3zM1116 600h3v1h-3zM1122 600h3v1h-3zM1128 600h3v1h-3zM1134 600h3v1h-3zM1140 600h3v1h-3zM1146 600h3v1h-3zM1152 600h3v1h-3zM1158 600h3v1h-3zM1164 600h3v1h-3zM1170 600h3v1h-3zM1176 600h3v1h-3zM1182 600h3v1h-3zM1188 600h3v1h-3zM1194 600h3v1h-3zM1200 600h3v1h-3zM1206 600h3v1h-3zM1212 600h3v1h-3zM1218 600h3v1h-3zM1224 600h3v1h-3zM1230 600h3v1h-3zM1236 600h3v1h-3zM1242 600h3v1h-3zM1248 600h3v1h-3zM1254 600h3v1h-3zM1260 600h3v1h-3zM1266 600h3v1h-3zM1272 600h3v1h-3zM1278 600h3v1h-3zM1284 600h3v1h-3zM1290 600h3v1h-3zM1296 600h3v1h-3zM1302 600h3v1h-3zM1308 600h3v1h-3zM1314 600h3v1h-3zM1320 600h3v1h-3zM1326 600h3v1h-3zM1332 600h3v1h-3zM1338 600h3v1h-3zM1344 600h3v1h-3zM1350 600h3v1h-3zM1356 600h3v1h-3zM1362 600h3v1h-3zM1368 600h3v1h-3zM1374 600h3v1h-3zM1380 600h3v1h-3zM1386 600h3v1h-3zM1392 600h3v1h-3zM1398 600h3v1h-3zM1404 600h3v1h-3zM1410 600h3v1h-3zM1416 600h3v1h-3zM1422 600h3v1h-3zM1428 600h3v1h-3zM1434 600h3v1h-3zM1440 600h3v1h-3zM1446 600h3v1h-3zM1452 600h3v1h-3zM1458 600h3v1h-3zM1464 600h3v1h-3zM1470 600h3v1h-3zM1476 600h3v1h-3zM1482 600h3v1h-3zM1488 600h3v1h-3zM1494 600h3v1h-3zM1500 600h3v1h-3zM1506 600h3v1h-3zM1512 600h3v1h-3zM1518 600h3v1h-3zM1524 600h3v1h-3zM1530 600h3v1h-3zM1536 600h3v1h-3zM1542 600h3v1h-3zM1548 600h3v1h-3zM1554 600h3v1h-3zM1560 600h3v1h-3zM1566 600h3v1h-3zM1572 600h3v1h-3zM1578 600h3v1h-3zM1584 600h3v1h-3zM1590 600h3v1h-3zM1596 600h1v1h-1z"/><path fill="#1e90ff" d="M5 593h1v1h-1zM6 592h1v1h-1zM7 591h1v1h-1zM8 590h1v1h-1zM9 589h1v1h-1zM10 590h1v2h-1zM11 592h1v1h-1zM12 593h1v2h-1zM13 595h1v1h-1zM14 596h2v1h-2zM16 597h1v1h-1zM17 598h7v1h-7zM24 597h2v1h-2zM25 596h1v1h-1zM26 594h1v2h-1zM27 592h1v2h-1zM28 590h1v2h-1zM29 588h1v2h-1zM30 588h2v1h-2zM32 587h4v1h-4zM36 588h2v1h-2zM38 586h1v2h-1zM39 584h1v2h-1zM40 582h1v2h-1zM41 581h1v1h-1zM42 580h1v1h-1zM43 578h1v2h-1zM44 577h1v1h-1zM45 576h3v1h-3zM48 575h2v1h-2zM50 576h2v1h-2zM52 577h1v1h-1zM53 578h1v1h-1zM54 579h2v1h-2zM56 580h1v1h-1zM57 581h6v1h-6zM63 582h2v1h-2zM65 583h3v1h-3zM68 582h2v1h-2zM69 581h1v1h-1zM70 578h1v3h-1zM71 576h1v2h-1zM72 573h1v3h-1zM73 572h1v1h-1zM74 573h1v2h-1zM75 575h1v2h-1zM76 577h1v2h-1zM77 579h1v2h-1zM78 580h2v1h-2zM80 581h6v1h-6zM86 580h2v1h-2zM88 579h1v1h-1zM89 578h2v1h-2zM91 577h2v1h-2zM93 576h3v1h-3zM96 577h3v1h-3zM99 576h2v1h-2zM101 575h1v1h-1zM102 576h2v1h-2zM104 577h1v1h-1zM105 578h1v1h-1zM106 577h1v1h-1zM107 575h1v2h-1zM108 574h1v1h-1zM109 573h1v1h-1zM110 574h2v1h-2zM112 575h1v1h-1zM113 576h3v1h-3zM116 577h4v1h-4zM120 578h6v1h-6zM125 577h1v1h-1zM126 573h1v4h-1zM127 570h1v3h-1zM128 566h1v4h-1zM129 564h1v2h-1zM130 564h1v1h-1zM131 563h2v1h-2zM133 562h1v1h-1zM134 563h1v1h-1zM135 564h1v1h-1zM136 565h1v1h-1zM137 566h3v1h-3zM140 565h2v1h-2zM142 564h1v1h-1zM143 563h1v1h-1zM144 562h1v1h-1zM145 561h1v1h-1zM146 562h2v1h-2zM148 563h1v1h-1zM149 564h1v1h-1zM150 563h2v1h-2zM152 562h1v1h-1zM153 561h1v1h-1zM154 562h1v2h-1zM155 564h1v1h-1zM156 565h1v2h-1zM157 567h1v1h-1zM158 568h1v2h-1zM159 570h1v2h-1zM160 572h1v2h-1zM161 574h3v1h-3zM164 575h3v1h-3zM167 576h2v1h-2zM169 577h1v1h-1zM170 578h1v1h-1zM171 579h1v1h-1zM172 580h1v1h-1zM173 581h3v1h-3zM176 582h3v1h-3zM179 583h2v1h-2zM181 584h2v1h-2zM183 583h2v1h-2zM185 582h3v1h-3zM188 583h2v1h-2zM189 584h1v1h-1zM190 585h1v2h-1zM191 587h1v3h-1zM192 590h1v2h-1zM193 592h1v2h-1zM194 591h1v2h-1zM195 590h1v1h-1zM196 588h1v2h-1zM197 587h1v1h-1zM198 588h1v1h-1zM199 589h1v2h-1zM200 591h1v1h-1zM201 592h3v1h-3zM204 591h4v1h-4zM208 592h6v1h-6zM214 593h1v2h-1zM215 595h1v2h-1zM216 597h1v2h-1zM217 599h1v1h-1zM218 597h1v2h-1zM219 596h1v1h-1zM220 594h1v2h-1zM221 593h3v1h-3zM224 594h3v1h-3zM227 595h2v1h-2zM229 596h2v1h-2zM231 595h2v1h-2zM233 594h3v1h-3zM236 595h4v1h-4zM240 594h2v1h-2zM242 595h2v1h-2zM244 596h1v1h-1zM245 596h1v2h-1zM246 594h1v2h-1zM247 592h1v2h-1zM248 590h1v2h-1zM249 588h1v2h-1zM250 587h1v1h-1zM251 586h1v1h-1zM252 585h1v1h-1zM253 584h1v1h-1zM254 583h1v1h-1zM255 582h1v1h-1zM256 581h1v1h-1zM257 580h2v1h-2zM259 581h2v1h-2zM261 582h5v1h-5zM266 583h1v1h-1zM267 584h1v1h-1zM268 585h1v1h-1zM269 586h1v1h-1zM270 584h1v2h-1zM271 583h1v1h-1zM272 581h1v2h-1zM273 580h2v1h-2zM275 581h2v1h-2zM277 582h3v1h-3zM280 581h4v1h-4zM284 582h2v1h-2zM286 583h1v1h-1zM287 584h1v2h-1zM288 586h1v1h-1zM289 587h2v1h-2zM291 586h2v1h-2zM293 585h2v1h-2zM295 586h2v1h-2zM297 587h5v1h-5zM302 588h1v1h-1zM303 589h1v2h-1zM304 591h1v1h-1zM305 592h1v1h-1zM306 591h1v1h-1zM307 589h1v2h-1zM308 588h1v1h-1zM309 587h2v1h-2zM311 586h2v1h-2zM313 584h1v2h-1zM314 581h1v3h-1zM315 578h1v3h-1zM316 575h1v3h-1zM317 573h1v2h-1zM318 574h1v1h-1zM319 575h1v1h-1zM320 576h1v1h-1zM321 577h2v1h-2zM323 578h2v1h-2zM325 579h3v1h-3zM328 578h3v1h-3zM331 579h2v1h-2zM333 580h2v1h-2zM335 581h2v1h-2zM337 582h1v1h-1zM338 581h1v1h-1zM339 579h1v2h-1zM340 578h1v1h-1zM341 577h1v1h-1zM342 578h1v2h-1zM343 580h1v1h-1zM344 581h1v2h-1zM345 583h1v1h-1zM346 584h1v1h-1zM347 585h1v1h-1zM348 586h1v1h-1zM349 587h3v1h-3zM352 588h4v1h-4zM356 589h4v1h-4zM360 588h2v1h-2zM362 589h1v1h-1zM363 590h1v1h-1zM364 591h1v1h-1zM365 592h1v1h-1zM366 591h2v1h-2zM368 590h1v1h-1zM369 589h6v1h-6zM375 588h2v1h-2zM377 587h6v1h-6zM383 586h2v1h-2zM385 585h1v1h-1zM386 583h1v2h-1zM387 581h1v2h-1zM388 579h1v2h-1zM389 578h1v1h-1zM390 579h1v2h-1zM391 581h1v1h-1zM392 582h1v2h-1zM393 584h3v1h-3zM396 585h2v1h-2zM398 584h1v1h-1zM399 583h1v1h-1zM400 582h1v1h-1zM401 581h2v1h-2zM403 582h2v1h-2zM405 583h2v1h-2zM407 584h2v1h-2zM409 584h1v2h-1zM410 581h1v3h-1zM411 579h1v2h-1zM412 576h1v3h-1zM413 573h1v3h-1zM414 571h1v2h-1zM415 569h1v2h-1zM416 567h1v2h-1zM417 566h2v1h-2zM419 565h2v1h-2zM421 564h1v1h-1zM422 565h2v1h-2zM424 566h1v1h-1zM425 567h3v1h-3zM428 566h2v1h-2zM430 565h1v1h-1zM431 564h1v1h-1zM432 563h1v1h-1zM433 562h1v1h-1zM434 563h1v1h-1zM435 564h1v1h-1zM436 565h1v1h-1zM437 566h3v1h-3zM440 565h2v1h-2zM442 566h1v1h-1zM443 567h1v1h-1zM444 568h1v1h-1zM445 569h1v1h-1zM446 568h2v1h-2zM448 567h1v1h-1zM449 566h3v1h-3zM452 567h3v1h-3zM455 566h2v1h-2zM457 565h1v1h-1zM458 564h1v1h-1zM459 563h1v1h-1zM460 562h1v1h-1zM461 561h3v1h-3zM464 562h6v1h-6zM470 563h1v2h-1zM471 565h1v2h-1zM472 567h1v2h-1zM473 569h2v1h-2zM475 570h2v1h-2zM477 571h3v1h-3zM480 570h2v1h-2zM482 569h1v1h-1zM483 567h1v2h-1zM484 566h1v1h-1zM485 565h1v2h-1zM486 567h1v3h-1zM487 570h1v2h-1zM488 572h1v3h-1zM489 575h1v2h-1zM490 576h6v1h-6zM496 577h2v1h-2zM498 578h1v1h-1zM499 579h1v2h-1zM500 581h1v1h-1zM501 582h1v1h-1zM502 583h1v2h-1zM503 585h1v2h-1zM504 587h1v2h-1zM505 589h3v1h-3zM508 588h4v1h-4zM512 589h3v1h-3zM515 588h2v1h-2zM517 587h2v1h-2zM519 588h2v1h-2zM521 589h2v1h-2zM523 590h2v1h-2zM525 591h1v1h-1zM526 589h1v2h-1zM527 588h1v1h-1zM528 586h1v2h-1zM529 585h2v1h-2zM531 586h2v1h-2zM533 587h3v1h-3zM536 586h4v1h-4zM540 585h2v1h-2zM542 584h1v1h-1zM543 583h1v1h-1zM544 582h1v1h-1zM545 581h1v1h-1zM546 580h2v1h-2zM548 579h1v1h-1zM549 577h1v2h-1zM550 575h1v2h-1zM551 573h1v2h-1zM552 571h1v2h-1zM553 570h1v1h-1zM554 569h2v1h-2zM556 568h1v1h-1zM557 567h1v1h-1zM558 568h2v1h-2zM560 569h1v1h-1zM561 570h2v1h-2zM563 569h2v1h-2zM565 568h1v1h-1zM566 569h1v1h-1zM567 570h1v2h-1zM568 572h1v1h-1zM569 573h2v1h-2zM571 574h2v1h-2zM573 574h1v2h-1zM574 572h1v2h-1zM575 569h1v3h-1zM576 567h1v2h-1zM577 566h1v1h-1zM578 567h1v2h-1zM579 569h1v2h-1zM580 571h1v2h-1zM581 573h1v2h-1zM582 575h1v1h-1zM583 576h1v1h-1zM584 577h1v1h-1zM585 578h1v1h-1zM586 577h1v1h-1zM587 575h1v2h-1zM588 574h1v1h-1zM589 573h1v1h-1zM590 572h2v1h-2zM592 571h1v1h-1zM593 570h1v1h-1zM594 571h2v1h-2zM596 572h1v1h-1zM597 573h5v1h-5zM602 572h1v1h-1zM603 571h1v1h-1zM604 570h1v1h-1zM605 569h1v1h-1zM606 568h2v1h-2zM608 567h1v1h-1zM609 566h6v1h-6zM615 565h2v1h-2zM617 564h3v1h-3zM620 563h2v1h-2zM622 562h2v1h-2zM624 561h1v1h-1zM625 560h1v1h-1zM626 561h2v1h-2zM628 562h1v1h-1zM629 563h1v1h-1zM630 564h2v1h-2zM632 565h1v1h-1zM633 566h2v1h-2zM635 567h2v1h-2zM637 568h1v1h-1zM638 567h1v1h-1zM639 566h1v1h-1zM640 565h1v1h-1zM641 564h5v1h-5zM646 565h1v2h-1zM647 567h1v2h-1zM648 569h1v2h-1zM649 571h1v1h-1zM650 570h1v1h-1zM651 569h1v1h-1zM652 568h1v1h-1zM653 567h1v1h-1zM654 568h1v1h-1zM655 569h1v1h-1zM656 570h1v1h-1zM657 571h2v1h-2zM659 570h2v1h-2zM661 569h2v1h-2zM663 570h2v1h-2zM665 571h3v1h-3zM668 570h2v1h-2zM670 568h1v2h-1zM671 567h1v1h-1zM672 565h1v2h-1zM673 564h5v1h-5zM678 565h1v1h-1zM679 566h1v2h-1zM680 568h1v1h-1zM681 569h5v1h-5zM686 568h2v1h-2zM688 567h1v1h-1zM689 566h2v1h-2zM691 565h2v1h-2zM693 564h3v1h-3zM696 563h4v1h-4zM700 564h2v1h-2zM702 563h1v1h-1zM703 562h1v1h-1zM704 561h1v1h-1zM705 560h2v1h-2zM707 561h2v1h-2zM709 562h1v1h-1zM710 563h1v2h-1zM711 565h1v1h-1zM712 566h1v2h-1zM713 568h3v1h-3zM716 569h2v1h-2zM718 570h2v1h-2zM720 571h1v1h-1zM721 571h1v2h-1zM722 569h1v2h-1zM723 567h1v2h-1zM724 565h1v2h-1zM725 564h1v1h-1zM726 563h1v1h-1zM727 561h1v2h-1zM728 560h1v1h-1zM729 559h3v1h-3zM732 558h4v1h-4zM736 559h2v1h-2zM738 558h2v1h-2zM740 557h1v1h-1zM741 556h1v1h-1zM742 557h1v2h-1zM743 559h1v2h-1zM744 561h1v2h-1zM745 563h1v2h-1zM746 565h1v2h-1zM747 567h1v2h-1zM748 569h1v2h-1zM749 571h3v1h-3zM752 572h8v1h-8zM760 573h4v1h-4zM764 572h2v1h-2zM766 573h1v1h-1zM767 574h1v2h-1zM768 576h1v1h-1zM769 577h1v1h-1zM770 576h1v1h-1zM771 575h1v1h-1zM772 574h1v1h-1zM773 573h2v1h-2zM775 574h2v1h-2zM777 575h3v1h-3zM780 574h4v1h-4zM784 575h6v1h-6zM790 576h1v2h-1zM791 578h1v1h-1zM792 579h1v2h-1zM793 580h1v2h-1zM794 577h1v3h-1zM795 574h1v3h-1zM796 571h1v3h-1zM797 569h1v2h-1zM798 569h4v1h-4zM802 570h2v1h-2zM804 571h1v1h-1zM805 572h3v1h-3zM808 571h2v1h-2zM810 570h2v1h-2zM812 569h1v1h-1zM813 568h3v1h-3zM816 569h4v1h-4zM820 568h3v1h-3zM823 569h2v1h-2zM825 570h1v1h-1zM826 569h1v1h-1zM827 568h1v1h-1zM828 567h1v1h-1zM829 566h5v1h-5zM833 567h1v1h-1zM834 568h1v3h-1zM835 571h1v2h-1zM836 573h1v3h-1zM837 576h1v2h-1zM838 575h1v2h-1zM839 574h1v1h-1zM840 572h1v2h-1zM841 571h3v1h-3zM844 572h6v1h-6zM849 573h1v1h-1zM850 574h1v4h-1zM851 578h1v3h-1zM852 581h1v4h-1zM853 585h1v2h-1zM854 586h1v1h-1zM855 587h2v1h-2zM857 588h1v1h-1zM858 587h1v1h-1zM859 586h1v1h-1zM860 585h1v1h-1zM861 584h2v1h-2zM863 583h2v1h-2zM865 582h1v1h-1zM866 583h2v1h-2zM868 584h1v1h-1zM869 585h1v1h-1zM870 586h1v2h-1zM871 588h1v2h-1zM872 590h1v2h-1zM873 592h2v1h-2zM875 593h2v1h-2zM877 594h1v1h-1zM878 593h1v1h-1zM879 592h1v1h-1zM880 591h1v1h-1zM881 590h1v1h-1zM882 591h2v1h-2zM884 592h1v1h-1zM885 593h1v1h-1zM886 592h2v1h-2zM888 591h1v1h-1zM889 590h1v1h-1zM890 589h1v1h-1zM891 587h1v2h-1zM892 586h1v1h-1zM893 585h3v1h-3zM896 586h2v1h-2zM898 584h1v2h-1zM899 582h1v2h-1zM900 580h1v2h-1zM901 579h2v1h-2zM903 578h2v1h-2zM905 577h3v1h-3zM908 576h4v1h-4zM912 577h2v1h-2zM913 578h1v1h-1zM914 579h1v2h-1zM915 581h1v3h-1zM916 584h1v2h-1zM917 586h1v2h-1zM918 587h2v1h-2zM920 588h4v1h-4zM924 587h7v1h-7zM931 586h2v1h-2zM933 585h1v1h-1zM934 586h1v2h-1zM935 588h1v1h-1zM936 589h1v2h-1zM937 591h2v1h-2zM939 592h2v1h-2zM941 593h5v1h-5zM946 592h1v1h-1zM947 590h1v2h-1zM948 589h1v1h-1zM949 588h3v1h-3zM952 589h2v1h-2zM954 588h2v1h-2zM956 587h1v1h-1zM957 586h5v1h-5zM962 587h1v2h-1zM963 589h1v1h-1zM964 590h1v2h-1zM965 592h3v1h-3zM968 591h3v1h-3zM971 592h2v1h-2zM973 593h3v1h-3zM976 592h3v1h-3zM979 591h2v1h-2zM981 590h7v1h-7zM988 589h2v1h-2zM990 590h1v2h-1zM991 592h1v1h-1zM992 593h1v2h-1zM993 595h3v1h-3zM996 596h2v1h-2zM998 595h2v1h-2zM1000 594h1v1h-1zM1001 593h3v1h-3zM1004 592h2v1h-2zM1006 591h1v1h-1zM1007 589h1v2h-1zM1008 588h1v1h-1zM1009 586h1v2h-1zM1010 584h1v2h-1zM1011 582h1v2h-1zM1012 580h1v2h-1zM1013 578h1v2h-1zM1014 578h1v1h-1zM1015 577h2v1h-2zM1017 576h3v1h-3zM1020 577h4v1h-4zM1024 576h6v1h-6zM1030 574h1v2h-1zM1031 573h1v1h-1zM1032 571h1v2h-1zM1033 570h1v1h-1zM1034 568h1v2h-1zM1035 567h1v1h-1zM1036 565h1v2h-1zM1037 564h2v1h-2zM1039 565h2v1h-2zM1041 566h1v1h-1zM1042 567h1v1h-1zM1043 568h1v2h-1zM1044 570h1v1h-1zM1045 571h2v1h-2zM1047 570h2v1h-2zM1049 569h5v1h-5zM1054 570h2v1h-2zM1056 571h1v1h-1zM1057 572h1v2h-1zM1058 574h1v3h-1zM1059 577h1v2h-1zM1060 579h1v3h-1zM1061 582h1v2h-1zM1062 583h1v1h-1zM1063 582h2v1h-2zM1065 581h1v1h-1zM1066 582h1v1h-1zM1067 583h1v2h-1zM1068 585h1v1h-1zM1069 586h9v1h-9zM1078 587h1v1h-1zM1079 588h1v2h-1zM1080 590h1v1h-1zM1081 591h2v1h-2zM1083 592h2v1h-2zM1085 593h3v1h-3zM1088 592h4v1h-4zM1092 591h4v1h-4zM1096 592h3v1h-3zM1099 591h2v1h-2zM1101 590h3v1h-3zM1104 591h2v1h-2zM1106 592h2v1h-2zM1108 593h1v1h-1zM1109 594h1v1h-1zM1110 593h2v1h-2zM1112 592h1v1h-1zM1113 591h1v1h-1zM1114 590h1v1h-1zM1115 588h1v2h-1zM1116 587h1v1h-1zM1117 586h1v1h-1zM1118 585h1v1h-1zM1119 583h1v2h-1zM1120 582h1v1h-1zM1121 581h1v1h-1zM1122 580h1v1h-1zM1123 579h1v1h-1zM1124 578h1v1h-1zM1125 577h1v1h-1zM1126 575h1v2h-1zM1127 574h1v1h-1zM1128 572h1v2h-1zM1129 571h1v2h-1zM1130 573h1v2h-1zM1131 575h1v3h-1zM1132 578h1v2h-1zM1133 580h1v2h-1zM1134 582h2v1h-2zM1136 583h1v1h-1zM1137 584h5v1h-5zM1142 583h2v1h-2zM1144 582h1v1h-1zM1145 581h1v1h-1zM1146 582h1v1h-1zM1147 583h1v1h-1zM1148 584h1v1h-1zM1149 585h1v1h-1zM1150 586h1v2h-1zM1151 588h1v1h-1zM1152 589h1v2h-1zM1153 591h2v1h-2zM1155 590h2v1h-2zM1157 589h1v1h-1zM1158 587h1v2h-1zM1159 585h1v2h-1zM1160 583h1v2h-1zM1161 582h3v1h-3zM1164 583h4v1h-4zM1168 582h2v1h-2zM1170 583h2v1h-2zM1172 584h1v1h-1zM1173 585h1v1h-1zM1174 586h1v1h-1zM1175 587h1v1h-1zM1176 588h1v1h-1zM1177 588h1v2h-1zM1178 586h1v2h-1zM1179 584h1v2h-1zM1180 582h1v2h-1zM1181 581h1v1h-1zM1182 580h1v1h-1zM1183 579h1v1h-1zM1184 578h1v1h-1zM1185 577h2v1h-2zM1187 578h2v1h-2zM1189 579h3v1h-3zM1192 578h3v1h-3zM1195 577h2v1h-2zM1197 576h1v1h-1zM1198 575h1v1h-1zM1199 574h1v1h-1zM1200 573h1v1h-1zM1201 572h1v1h-1zM1202 573h1v1h-1zM1203 574h1v1h-1zM1204 575h1v1h-1zM1205 576h1v2h-1zM1206 578h1v2h-1zM1207 580h1v2h-1zM1208 582h1v2h-1zM1209 584h3v1h-3zM1212 583h4v1h-4zM1216 582h2v1h-2zM1218 583h2v1h-2zM1220 584h1v1h-1zM1221 585h3v1h-3zM1224 586h3v1h-3zM1227 585h2v1h-2zM1229 584h2v1h-2zM1231 583h2v1h-2zM1233 582h3v1h-3zM1236 583h2v1h-2zM1237 582h1v1h-1zM1238 580h1v2h-1zM1239 578h1v2h-1zM1240 576h1v2h-1zM1241 574h1v2h-1zM1242 573h2v1h-2zM1244 572h1v1h-1zM1245 571h3v1h-3zM1248 570h2v1h-2zM1250 569h1v1h-1zM1251 568h1v1h-1zM1252 567h1v1h-1zM1253 566h1v1h-1zM1254 567h1v1h-1zM1255 568h1v1h-1zM1256 569h1v1h-1zM1257 570h3v1h-3zM1260 569h8v1h-8zM1268 568h2v1h-2z"/><path fill="#c0c0c0" d="M5 691h1V709h-1zM9 691h1V709h-1zM13 691h1V710h-1zM17 691h1V713h-1zM21 691h1V715h-1zM25 691h1V716h-1zM29 691h1V714h-1zM33 691h1V712h-1zM37 691h1V711h-1zM41 691h1V707h-1zM45 691h1V703h-1zM49 691h1V699h-1zM53 691h1V697h-1zM57 691h1V696h-1zM61 691h1V695h-1zM65 691h1V694h-1zM69 691h1V694h-1zM73 689h1V692h-1zM77 688h1V692h-1zM81 688h1V692h-1zM85 688h1V692h-1zM89 688h1V692h-1zM93 686h1V692h-1zM97 686h1V692h-1zM101 684h1V692h-1zM105 684h1V692h-1zM109 683h1V692h-1zM113 682h1V692h-1zM117 682h1V692h-1zM121 682h1V692h-1zM125 683h1V692h-1zM129 677h1V692h-1zM133 672h1V692h-1zM137 669h1V692h-1zM141 666h1V692h-1zM145 662h1V692h-1zM149 660h1V692h-1zM153 657h1V692h-1zM157 656h1V692h-1zM161 659h1V692h-1zM165 661h1V692h-1zM169 664h1V692h-1zM173 668h1V692h-1zM177 671h1V692h-1zM181 675h1V692h-1zM185 678h1V692h-1zM189 680h1V692h-1zM193 686h1V692h-1zM197 689h1V692h-1zM201 691h1V694h-1zM205 691h1V698h-1zM209 691h1V701h-1zM213 691h1V703h-1zM217 691h1V709h-1zM221 691h1V711h-1zM225 691h1V713h-1zM229 691h1V715h-1zM233 691h1V716h-1zM237 691h1V717h-1zM241 691h1V717h-1zM245 691h1V719h-1zM249 691h1V717h-1zM253 691h1V714h-1zM257 691h1V710h-1zM261 691h1V707h-1zM265 691h1V705h-1zM269 691h1V704h-1zM273 691h1V701h-1zM277 691h1V700h-1zM281 691h1V698h-1zM285 691h1V697h-1zM289 691h1V698h-1zM293 691h1V698h-1zM297 691h1V699h-1zM301 691h1V699h-1zM305 691h1V701h-1zM309 691h1V702h-1zM313 691h1V701h-1zM317 691h1V696h-1zM321 691h1V693h-1zM325 691h1V692h-1zM329 690h1V692h-1zM333 689h1V692h-1zM337 689h1V692h-1zM341 688h1V692h-1zM345 689h1V692h-1zM349 691h1V692h-1zM353 691h1V694h-1zM357 691h1V696h-1zM361 691h1V697h-1zM365 691h1V699h-1zM369 691h1V700h-1zM373 691h1V701h-1zM377 691h1V701h-1zM381 691h1V701h-1zM385 691h1V700h-1zM389 691h1V698h-1zM393 691h1V697h-1zM397 691h1V697h-1zM401 691h1V696h-1zM405 691h1V696h-1zM409 691h1V696h-1zM413 691h1V693h-1zM417 686h1V692h-1zM421 680h1V692h-1zM425 676h1V692h-1zM429 673h1V692h-1zM433 669h1V692h-1zM437 667h1V692h-1zM441 665h1V692h-1zM445 665h1V692h-1zM449 663h1V692h-1zM453 663h1V692h-1zM457 662h1V692h-1zM461 660h1V692h-1zM465 658h1V692h-1zM469 657h1V692h-1zM473 659h1V692h-1zM477 660h1V692h-1zM481 662h1V692h-1zM485 661h1V692h-1zM489 664h1V692h-1zM493 666h1V692h-1zM497 668h1V692h-1zM501 672h1V692h-1zM505 677h1V692h-1zM509 681h1V692h-1zM513 685h1V692h-1zM517 687h1V692h-1zM521 690h1V692h-1zM525 691h1V694h-1zM529 691h1V695h-1zM533 691h1V696h-1zM537 691h1V696h-1zM541 691h1V697h-1zM545 691h1V696h-1zM549 691h1V694h-1zM553 689h1V692h-1zM557 685h1V692h-1zM561 682h1V692h-1zM565 679h1V692h-1zM569 678h1V692h-1zM573 678h1V692h-1zM577 673h1V692h-1zM581 672h1V692h-1zM585 674h1V692h-1zM589 672h1V692h-1zM593 670h1V692h-1zM597 669h1V692h-1zM601 669h1V692h-1zM605 666h1V692h-1zM609 663h1V692h-1zM613 660h1V692h-1zM617 657h1V692h-1zM621 655h1V692h-1zM625 650h1V692h-1zM629 649h1V692h-1zM633 649h1V692h-1zM637 650h1V692h-1zM641 648h1V692h-1zM645 648h1V692h-1zM649 650h1V692h-1zM653 650h1V692h-1zM657 651h1V692h-1zM661 652h1V692h-1zM665 654h1V692h-1zM669 655h1V692h-1zM673 653h1V692h-1zM677 651h1V692h-1zM681 652h1V692h-1zM685 653h1V692h-1zM689 653h1V692h-1zM693 652h1V692h-1zM697 650h1V692h-1zM701 650h1V692h-1zM705 648h1V692h-1zM709 647h1V692h-1zM713 648h1V692h-1zM717 650h1V692h-1zM721 653h1V692h-1zM725 651h1V692h-1zM729 646h1V692h-1zM733 642h1V692h-1zM737 640h1V692h-1zM741 635h1V692h-1zM745 635h1V692h-1zM749 638h1V692h-1zM753 642h1V692h-1zM757 645h1V692h-1zM761 649h1V692h-1zM765 651h1V692h-1zM769 655h1V692h-1zM773 657h1V692h-1zM777 659h1V692h-1zM781 661h1V692h-1zM785 663h1V692h-1zM789 665h1V692h-1zM793 669h1V692h-1zM797 666h1V692h-1zM801 664h1V692h-1zM805 664h1V692h-1zM809 664h1V692h-1zM813 662h1V692h-1zM817 662h1V692h-1zM821 661h1V692h-1zM825 661h1V692h-1zM829 660h1V692h-1zM833 659h1V692h-1zM837 662h1V692h-1zM841 662h1V692h-1zM845 662h1V692h-1zM849 663h1V692h-1zM853 670h1V692h-1zM857 676h1V692h-1zM861 679h1V692h-1zM865 681h1V692h-1zM869 684h1V692h-1zM873 690h1V692h-1zM877 691h1V698h-1zM881 691h1V701h-1zM885 691h1V705h-1zM889 691h1V707h-1zM893 691h1V706h-1zM897 691h1V706h-1zM901 691h1V702h-1zM905 691h1V698h-1zM909 691h1V695h-1zM913 691h1V692h-1zM917 691h1V694h-1zM921 691h1V697h-1zM925 691h1V699h-1zM929 691h1V700h-1zM933 691h1V700h-1zM937 691h1V703h-1zM941 691h1V706h-1zM945 691h1V709h-1zM949 691h1V709h-1zM953 691h1V709h-1zM957 691h1V708h-1zM961 691h1V707h-1zM965 691h1V708h-1zM969 691h1V709h-1zM973 691h1V711h-1zM977 691h1V711h-1zM981 691h1V711h-1zM985 691h1V711h-1zM989 691h1V710h-1zM993 691h1V711h-1zM997 691h1V712h-1zM1001 691h1V712h-1zM1005 691h1V712h-1zM1009 691h1V710h-1zM1013 691h1V706h-1zM1017 691h1V702h-1zM1021 691h1V699h-1zM1025 691h1V696h-1zM1029 691h1V694h-1zM1033 689h1V692h-1zM1037 683h1V692h-1zM1041 679h1V692h-1zM1045 677h1V692h-1zM1049 675h1V692h-1zM1053 673h1V692h-1zM1057 673h1V692h-1zM1061 676h1V692h-1zM1065 678h1V692h-1zM1069 681h1V692h-1zM1073 684h1V692h-1zM1077 687h1V692h-1zM1081 690h1V692h-1zM1085 691h1V695h-1zM1089 691h1V697h-1zM1093 691h1V699h-1zM1097 691h1V700h-1zM1101 691h1V701h-1zM1105 691h1V702h-1zM1109 691h1V703h-1zM1113 691h1V703h-1zM1117 691h1V703h-1zM1121 691h1V701h-1zM1125 691h1V698h-1zM1129 691h1V694h-1zM1133 691h1V693h-1zM1137 691h1V694h-1zM1141 691h1V694h-1zM1145 691h1V694h-1zM1149 691h1V694h-1zM1153 691h1V697h-1zM1157 691h1V698h-1zM1161 691h1V697h-1zM1165 691h1V697h-1zM1169 691h1V696h-1zM1173 691h1V696h-1zM1177 691h1V698h-1zM1181 691h1V697h-1zM1185 691h1V694h-1zM1189 691h1V693h-1zM1193 691h1V692h-1zM1197 689h1V692h-1zM1201 686h1V692h-1zM1205 685h1V692h-1zM1209 686h1V692h-1zM1213 687h1V692h-1zM1217 688h1V692h-1zM1221 689h1V692h-1zM1225 691h1V692h-1zM1229 691h1V692h-1zM1233 691h1V692h-1zM1237 691h1V692h-1zM1241 689h1V692h-1zM1245 686h1V692h-1zM1249 683h1V692h-1zM1253 680h1V692h-1zM1257 678h1V692h-1zM1261 676h1V692h-1zM1265 675h1V692h-1zM1269 674h1V692h-1z"/><path fill="#ff0000" d="M5 703h3v1h-3zM11 704h1v1h-1zM12 705h2v1h-2zM17 706h2v1h-2zM19 707h1v1h-1zM23 708h1v1h-1zM24 709h2v1h-2zM29 710h3v1h-3zM35 711h3v1h-3zM41 711h3v1h-3zM47 710h1v1h-1zM48 709h2v1h-2zM53 707h2v1h-2zM55 706h1v1h-1zM59 704h2v1h-2zM61 703h1v1h-1zM65 700h2v1h-2zM67 699h1v1h-1zM71 697h2v1h-2zM73 696h1v1h-1zM77 694h3v1h-3zM83 692h2v1h-2zM85 691h1v1h-1zM89 691h3v1h-3zM95 690h1v1h-1zM96 689h2v1h-2zM101 688h3v1h-3zM107 687h1v1h-1zM108 686h2v1h-2zM113 686h3v1h-3zM119 685h1v1h-1zM120 684h2v1h-2zM125 684h3v1h-3zM131 682h2v1h-2zM133 681h1v1h-1zM137 679h2v1h-2zM139 678h1v1h-1zM143 676h2v1h-2zM145 675h1v1h-1zM149 673h1v1h-1zM150 672h2v1h-2zM155 669h1v1h-1zM156 668h1v1h-1zM157 667h1v1h-1zM161 664h2v1h-2zM163 663h1v1h-1zM167 662h3v1h-3zM173 661h3v1h-3zM179 662h1v1h-1zM180 663h2v1h-2zM185 665h1v1h-1zM186 666h2v1h-2zM191 669h1v1h-1zM192 670h1v1h-1zM193 671h1v1h-1zM197 675h1v1h-1zM198 676h2v1h-2zM203 680h1v1h-1zM204 681h1v1h-1zM205 682h1v1h-1zM209 685h1v1h-1zM210 686h1v1h-1zM211 687h1v1h-1zM215 690h1v1h-1zM216 691h1v1h-1zM217 692h1v1h-1zM221 696h1v1h-1zM222 697h1v1h-1zM223 698h1v1h-1zM227 701h1v1h-1zM228 702h1v1h-1zM229 703h1v1h-1zM233 706h2v1h-2zM235 707h1v1h-1zM239 709h2v1h-2zM241 710h1v1h-1zM245 712h2v1h-2zM247 713h1v1h-1zM251 714h3v1h-3zM257 714h3v1h-3zM263 713h2v1h-2zM265 712h1v1h-1zM269 711h2v1h-2zM271 710h1v1h-1zM275 708h2v1h-2zM277 707h1v1h-1zM281 705h2v1h-2zM283 704h1v1h-1zM287 702h2v1h-2zM289 701h1v1h-1zM293 700h3v1h-3zM299 699h1v1h-1zM300 698h2v1h-2zM305 698h3v1h-3zM311 698h3v1h-3zM317 698h3v1h-3zM323 698h1v1h-1zM324 697h2v1h-2zM329 696h3v1h-3zM335 695h1v1h-1zM336 694h2v1h-2zM341 693h3v1h-3zM347 692h1v1h-1zM348 691h2v1h-2zM353 690h3v1h-3zM359 691h3v1h-3zM365 692h3v1h-3zM371 693h1v1h-1zM372 694h2v1h-2zM377 696h3v1h-3zM383 697h1v1h-1zM384 698h2v1h-2zM389 698h3v1h-3zM395 698h3v1h-3zM401 698h3v1h-3zM407 698h1v1h-1zM408 697h2v1h-2zM413 696h3v1h-3zM419 694h1v1h-1zM420 693h1v1h-1zM421 692h1v1h-1zM425 690h2v1h-2zM427 689h1v1h-1zM431 687h1v1h-1zM432 686h1v1h-1zM433 685h1v1h-1zM437 681h1v1h-1zM438 680h2v1h-2zM443 677h1v1h-1zM444 676h1v1h-1zM445 675h1v1h-1zM449 672h1v1h-1zM450 671h2v1h-2zM455 668h2v1h-2zM457 667h1v1h-1zM461 665h2v1h-2zM463 664h1v1h-1zM467 663h1v1h-1zM468 662h2v1h-2zM473 661h3v1h-3zM479 661h1v1h-1zM480 660h2v1h-2zM485 660h3v1h-3zM491 660h1v1h-1zM492 661h2v1h-2zM497 662h3v1h-3zM503 664h2v1h-2zM505 665h1v1h-1zM509 668h1v1h-1zM510 669h2v1h-2zM515 672h1v1h-1zM516 673h1v1h-1zM517 674h1v1h-1zM521 677h1v1h-1zM522 678h2v1h-2zM527 681h1v1h-1zM528 682h1v1h-1zM529 683h1v1h-1zM533 686h1v1h-1zM534 687h2v1h-2zM539 690h2v1h-2zM541 691h1v1h-1zM545 692h3v1h-3zM551 693h3v1h-3zM557 693h2v1h-2zM559 692h1v1h-1zM563 691h1v1h-1zM564 690h2v1h-2zM569 688h2v1h-2zM571 687h1v1h-1zM575 685h2v1h-2zM577 684h1v1h-1zM581 681h2v1h-2zM583 680h1v1h-1zM587 678h2v1h-2zM589 677h1v1h-1zM593 675h3v1h-3zM599 674h1v1h-1zM600 673h2v1h-2zM605 671h3v1h-3zM611 669h2v1h-2zM613 668h1v1h-1zM617 667h2v1h-2zM619 666h1v1h-1zM623 664h1v1h-1zM624 663h1v1h-1zM625 662h1v1h-1zM629 660h2v1h-2zM631 659h1v1h-1zM635 657h2v1h-2zM637 656h1v1h-1zM641 654h2v1h-2zM643 653h1v1h-1zM647 652h1v1h-1zM648 651h2v1h-2zM653 650h3v1h-3zM659 650h3v1h-3zM665 650h3v1h-3zM671 651h3v1h-3zM677 651h3v1h-3zM683 652h3v1h-3zM689 653h3v1h-3zM695 653h1v1h-1zM696 652h2v1h-2zM701 652h3v1h-3zM707 651h3v1h-3zM713 650h3v1h-3zM719 650h3v1h-3zM725 650h3v1h-3zM731 649h1v1h-1zM732 648h2v1h-2zM737 647h3v1h-3zM743 646h1v1h-1zM744 645h2v1h-2zM749 644h3v1h-3zM755 643h1v1h-1zM756 642h2v1h-2zM761 641h3v1h-3zM767 642h1v1h-1zM768 643h2v1h-2zM773 645h1v1h-1zM774 646h2v1h-2zM779 649h1v1h-1zM780 650h1v1h-1zM781 651h1v1h-1zM785 654h2v1h-2zM787 655h1v1h-1zM791 657h1v1h-1zM792 658h1v1h-1zM793 659h1v1h-1zM797 661h3v1h-3zM803 662h1v1h-1zM804 663h2v1h-2zM809 664h3v1h-3zM815 664h3v1h-3zM821 664h3v1h-3zM827 664h1v1h-1zM828 663h2v1h-2zM833 662h3v1h-3zM839 662h1v1h-1zM840 661h2v1h-2zM845 661h3v1h-3zM851 661h1v1h-1zM852 662h2v1h-2zM857 664h2v1h-2zM859 665h1v1h-1zM863 667h2v1h-2zM865 668h1v1h-1zM869 671h1v1h-1zM870 672h2v1h-2zM875 676h1v1h-1zM876 677h1v1h-1zM877 678h1v1h-1zM881 682h1v1h-1zM882 683h1v1h-1zM883 684h1v1h-1zM886 688h1v1h-1zM887 689h1v1h-1zM888 690h1v1h-1zM892 693h1v1h-1zM893 694h1v1h-1zM894 695h1v1h-1zM898 697h1v1h-1zM899 698h2v1h-2zM904 700h1v1h-1zM905 701h2v1h-2zM910 701h2v1h-2zM912 700h1v1h-1zM916 700h3v1h-3zM922 699h2v1h-2zM924 698h1v1h-1zM928 697h3v1h-3zM934 696h2v1h-2zM936 697h1v1h-1zM940 697h3v1h-3zM946 699h1v1h-1zM947 700h2v1h-2zM952 702h1v1h-1zM953 703h2v1h-2zM958 704h2v1h-2zM960 705h1v1h-1zM964 706h3v1h-3zM970 707h3v1h-3zM976 708h3v1h-3zM982 708h3v1h-3zM988 709h3v1h-3zM994 709h2v1h-2zM996 710h1v1h-1zM1000 710h3v1h-3zM1006 710h3v1h-3zM1012 710h3v1h-3zM1018 709h1v1h-1zM1019 708h2v1h-2zM1024 706h3v1h-3zM1030 703h2v1h-2zM1032 702h1v1h-1zM1036 699h1v1h-1zM1037 698h1v1h-1zM1038 697h1v1h-1zM1042 693h2v1h-2zM1044 692h1v1h-1zM1048 689h1v1h-1zM1049 688h1v1h-1zM1050 687h1v1h-1zM1054 684h2v1h-2zM1056 683h1v1h-1zM1060 681h1v1h-1zM1061 680h2v1h-2zM1066 678h2v1h-2zM1068 677h1v1h-1zM1072 677h3v1h-3zM1078 678h1v1h-1zM1079 679h2v1h-2zM1084 681h1v1h-1zM1085 682h2v1h-2zM1090 685h2v1h-2zM1092 686h1v1h-1zM1096 689h1v1h-1zM1097 690h2v1h-2zM1102 692h1v1h-1zM1103 693h2v1h-2zM1108 695h1v1h-1zM1109 696h2v1h-2zM1114 698h2v1h-2zM1116 699h1v1h-1zM1120 700h3v1h-3zM1126 700h2v1h-2zM1128 699h1v1h-1zM1132 699h3v1h-3zM1138 698h2v1h-2zM1140 697h1v1h-1zM1144 696h3v1h-3zM1150 695h2v1h-2zM1152 694h1v1h-1zM1156 694h3v1h-3zM1162 694h3v1h-3zM1168 695h3v1h-3zM1174 695h3v1h-3zM1180 696h3v1h-3zM1186 696h2v1h-2zM1188 695h1v1h-1zM1192 695h3v1h-3zM1198 694h2v1h-2zM1200 693h1v1h-1zM1204 692h1v1h-1zM1205 691h2v1h-2zM1210 690h2v1h-2zM1212 689h1v1h-1zM1216 689h3v1h-3zM1222 688h3v1h-3zM1228 688h3v1h-3zM1234 688h2v1h-2zM1236 689h1v1h-1zM1240 689h3v1h-3zM1246 689h3v1h-3zM1252 688h3v1h-3zM1258 687h1v1h-1zM1259 686h2v1h-2zM1264 684h1v1h-1zM1265 683h2v1h-2z"/><rect x="4.5" y="28.5" width="1593" height="506" fill="none" stroke="#000"/><rect x="4.5" y="536.5" width="1593" height="92" fill="none" stroke="#000"/><rect x="4.5" y="630.5" width="1593" height="92" fill="none" stroke="#000"/><path fill="#000" d="M1598 36h2v1h-2zM1598 69h2v1h-2zM1598 102h2v1h-2zM1598 135h2v1h-2zM1598 168h2v1h-2zM1598 201h2v1h-2zM1598 234h2v1h-2zM1598 267h2v1h-2zM1598 300h2v1h-2zM1598 333h2v1h-2zM1598 366h2v1h-2zM1598 399h2v1h-2zM1598 432h2v1h-2zM1598 465h2v1h-2zM1598 498h2v1h-2zM1598 531h2v1h-2zM1598 538h1v1h-1zM1598 627h1v1h-1zM1598 632h1v1h-1zM1598 691h1v1h-1zM1598 721h1v1h-1zM1598 691h2v1h-2zM5 723h1v3h-1zM69 723h1v3h-1zM133 723h1v3h-1zM197 723h1v3h-1zM261 723h1v3h-1zM325 723h1v3h-1zM389 723h1v3h-1zM453 723h1v3h-1zM517 723h1v3h-1zM581 723h1v3h-1zM645 723h1v3h-1zM709 723h1v3h-1zM773 723h1v3h-1zM837 723h1v3h-1zM901 723h1v3h-1zM965 723h1v3h-1zM1029 723h1v3h-1zM1093 723h1v3h-1zM1157 723h1v3h-1zM1221 723h1v3h-1z"/><rect x="1597" y="126" width="2" height="1" fill="#c0c0c0"/><rect x="5" y="64" width="1592" height="2" fill="#ff0000"/><rect x="4" y="62" width="6" height="6" fill="#ff0000"/><rect x="6" y="64" width="2" height="2" fill="#fff"/><rect x="1591" y="62" width="6" height="6" fill="#ff0000"/><rect x="1593" y="64" width="2" height="2" fill="#fff"/><rect x="5" y="132" width="1592" height="2" fill="#ff0000"/><rect x="5" y="201" width="1592" height="2" fill="#00ff00"/><rect x="4" y="199" width="6" height="6" fill="#00ff00"/><rect x="6" y="201" width="2" height="2" fill="#fff"/><rect x="1591" y="199" width="6" height="6" fill="#00ff00"/><rect x="1593" y="201" width="2" height="2" fill="#fff"/><rect x="5" y="268" width="1592" height="2" fill="#0000ff"/><rect x="4" y="266" width="6" height="6" fill="#0000ff"/><rect x="6" y="268" width="2" height="2" fill="#fff"/><rect x="1591" y="266" width="6" height="6" fill="#0000ff"/><rect x="1593" y="268" width="2" height="2" fill="#fff"/><rect x="5" y="335" width="1592" height="2" fill="#0000ff"/><rect x="4" y="333" width="6" height="6" fill="#0000ff"/><rect x="6" y="335" width="2" height="2" fill="#fff"/><rect x="1591" y="333" width="6" height="6" fill="#0000ff"/><rect x="1593" y="335" width="2" height="2" fill="#fff"/></svg>
<svg width="8" height="5" viewBox="0 0 8 5" style="position:absolute;left:8px;top:35px" shape-rendering="crispEdges"><path d="M0 0h7l-3.5 4z" fill="#000"/></svg>
<div class="t" style="left:1603px;top:29px;color:#000;letter-spacing:-0.15px">1.14470</div><div class="t" style="left:1603px;top:62px;color:#000;letter-spacing:-0.15px">1.13980</div><div class="t" style="left:1603px;top:95px;color:#000;letter-spacing:-0.15px">1.13490</div><div class="t" style="left:1603px;top:128px;color:#000;letter-spacing:-0.15px">1.13000</div><div class="t" style="left:1603px;top:161px;color:#000;letter-spacing:-0.15px">1.12510</div><div class="t" style="left:1603px;top:194px;color:#000;letter-spacing:-0.15px">1.12020</div><div class="t" style="left:1603px;top:227px;color:#000;letter-spacing:-0.15px">1.11530</div><div class="t" style="left:1603px;top:260px;color:#000;letter-spacing:-0.15px">1.11040</div><div class="t" style="left:1603px;top:293px;color:#000;letter-spacing:-0.15px">1.10550</div><div class="t" style="left:1603px;top:326px;color:#000;letter-spacing:-0.15px">1.10060</div><div class="t" style="left:1603px;top:359px;color:#000;letter-spacing:-0.15px">1.09570</div><div class="t" style="left:1603px;top:392px;color:#000;letter-spacing:-0.15px">1.09080</div><div class="t" style="left:1603px;top:425px;color:#000;letter-spacing:-0.15px">1.08590</div><div class="t" style="left:1603px;top:458px;color:#000;letter-spacing:-0.15px">1.08100</div><div class="t" style="left:1603px;top:491px;color:#000;letter-spacing:-0.15px">1.07610</div><div class="t" style="left:1603px;top:524px;color:#000;letter-spacing:-0.15px">1.07110</div><div class="lb" style="top:121px;background:#000">1.13142</div><div class="lb" style="top:59px;background:#ff0000">1.14047</div><div class="lb" style="top:127px;background:#ff0000">1.13034</div><div class="lb" style="top:196px;background:#00ff00">1.12004</div><div class="lb" style="top:263px;background:#0000ff">1.11009</div><div class="lb" style="top:330px;background:#0000ff">1.10008</div><div class="t" style="left:1601px;top:536px;color:#000;">100</div><div class="t" style="left:1600px;top:557px;color:#000;">70</div><div class="t" style="left:1600px;top:593px;color:#000;">30</div><div class="t" style="left:1601px;top:614px;color:#000;">0</div><div class="t" style="left:1601px;top:630px;color:#000;">0.006633</div><div class="t" style="left:1601px;top:684px;color:#000;">0.00</div><div class="t" style="left:1601px;top:708px;color:#000;">-0.00339</div><div class="t" style="left:20px;top:29px;color:#000;"><span style="letter-spacing:0.6px">EURUSD,H4</span>&nbsp; <span style="letter-spacing:-0.08px">1.13119 1.13160 1.13114 1.13142</span></div><div class="t" style="left:9px;top:538px;color:#000;font-size:9.5px">RSI(14) 65.8569</div><div class="t" style="left:9px;top:632px;color:#000;font-size:9.45px">MACD(12,26,9) 0.001872 0.001088</div><div class="t" style="left:4px;top:724px;color:#000;font-size:9.45px;word-spacing:0.4px">23 Apr 2020</div><div class="t" style="left:68px;top:724px;color:#000;font-size:9.45px;word-spacing:0.4px">28 Apr 10:00</div><div class="t" style="left:132px;top:724px;color:#000;font-size:9.45px;word-spacing:0.4px">1 May 00:00</div><div class="t" style="left:196px;top:724px;color:#000;font-size:9.45px;word-spacing:0.4px">5 May 18:00</div><div class="t" style="left:260px;top:724px;color:#000;font-size:9.45px;word-spacing:0.4px">8 May 10:00</div><div class="t" style="left:324px;top:724px;color:#000;font-size:9.45px;word-spacing:0.4px">13 May 00:00</div><div class="t" style="left:388px;top:724px;color:#000;font-size:9.45px;word-spacing:0.4px">15 May 18:00</div><div class="t" style="left:452px;top:724px;color:#000;font-size:9.45px;word-spacing:0.4px">20 May 10:00</div><div class="t" style="left:516px;top:724px;color:#000;font-size:9.45px;word-spacing:0.4px">23 May 00:00</div><div class="t" style="left:580px;top:724px;color:#000;font-size:9.45px;word-spacing:0.4px">27 May 18:00</div><div class="t" style="left:644px;top:724px;color:#000;font-size:9.45px;word-spacing:0.4px">1 Jun 11:00</div><div class="t" style="left:708px;top:724px;color:#000;font-size:9.45px;word-spacing:0.4px">4 Jun 00:00</div><div class="t" style="left:772px;top:724px;color:#000;font-size:9.45px;word-spacing:0.4px">8 Jun 19:00</div><div class="t" style="left:836px;top:724px;color:#000;font-size:9.45px;word-spacing:0.4px">11 Jun 10:00</div><div class="t" style="left:900px;top:724px;color:#000;font-size:9.45px;word-spacing:0.4px">16 Jun 00:00</div><div class="t" style="left:964px;top:724px;color:#000;font-size:9.45px;word-spacing:0.4px">18 Jun 18:00</div><div class="t" style="left:1028px;top:724px;color:#000;font-size:9.45px;word-spacing:0.4px">23 Jun 10:00</div><div class="t" style="left:1092px;top:724px;color:#000;font-size:9.45px;word-spacing:0.4px">26 Jun 00:00</div><div class="t" style="left:1156px;top:724px;color:#000;font-size:9.45px;word-spacing:0.4px">30 Jun 18:00</div><div class="t" style="left:1220px;top:724px;color:#000;font-size:9.45px;word-spacing:0.4px">3 Jul 10:00</div>
<div style="position:absolute;left:0;top:743px;width:1638px;height:1px;background:#e3e3e3"></div>
<div style="position:absolute;left:0;top:745px;width:1638px;height:21px;background:#f0f0f0"></div>
<div style="position:absolute;left:0;top:745px;width:1638px;height:1px;background:#000"></div>
<div style="position:absolute;left:0;top:746px;width:1px;height:20px;background:#a0a0a0"></div>
<div style="position:absolute;left:1px;top:746px;width:1px;height:20px;background:#696969"></div>
<div style="position:absolute;left:2px;top:746px;width:1px;height:20px;background:#fff"></div>
<div style="position:absolute;left:7px;top:746px;width:92px;height:19px;background:#a0a0a0"></div>
<div style="position:absolute;left:6px;top:745px;width:92px;height:19px;background:#fff;border:1px solid #000;border-top:none;box-sizing:border-box;text-align:center;padding-left:2px;line-height:23px;font-size:12px;color:#000">EURUSD,H4</div>
<div class="tab" style="left:98px;width:100px">USDCHF,Daily</div><div style="position:absolute;left:198px;top:748px;width:1px;height:14px;background:#606060"></div><div class="tab" style="left:198px;width:104px">AUDUSD,Daily</div><div style="position:absolute;left:302px;top:748px;width:1px;height:14px;background:#606060"></div><div class="tab" style="left:302px;width:104px">USDCAD,Daily</div><div style="position:absolute;left:406px;top:748px;width:1px;height:14px;background:#606060"></div><div class="tab" style="left:406px;width:104px">USDCNH,Daily</div><div style="position:absolute;left:510px;top:748px;width:1px;height:14px;background:#606060"></div><div class="tab" style="left:510px;width:100px">EURUSD,M15</div><div style="position:absolute;left:610px;top:748px;width:1px;height:14px;background:#606060"></div><div class="tab" style="left:610px;width:100px">GBPUSD,M30</div><div style="position:absolute;left:710px;top:748px;width:1px;height:14px;background:#606060"></div><div class="tab" style="left:710px;width:104px">XAUUSD,Daily</div><div style="position:absolute;left:814px;top:748px;width:1px;height:14px;background:#606060"></div><div class="tab" style="left:814px;width:72px">HK50,H1</div><div style="position:absolute;left:886px;top:748px;width:1px;height:14px;background:#606060"></div><div class="tab" style="left:886px;width:80px">UK100,H1</div><div style="position:absolute;left:966px;top:748px;width:1px;height:14px;background:#606060"></div><div class="tab" style="left:966px;width:80px">UK100,H1</div><div style="position:absolute;left:1046px;top:748px;width:1px;height:14px;background:#606060"></div><div class="tab" style="left:1046px;width:80px">GER30,H1</div><div style="position:absolute;left:1126px;top:748px;width:1px;height:14px;background:#606060"></div><div class="tab" style="left:1126px;width:76px">FRA40,H1</div><div style="position:absolute;left:1202px;top:748px;width:1px;height:14px;background:#606060"></div><div class="tab" style="left:1202px;width:84px">USOil,Daily</div><div style="position:absolute;left:1286px;top:748px;width:1px;height:14px;background:#606060"></div><div class="tab" style="left:1286px;width:84px">USDJPY,H1</div><div style="position:absolute;left:1370px;top:748px;width:1px;height:14px;background:#606060"></div><div class="tab" style="left:1370px;width:80px">DJ30,M15</div><div style="position:absolute;left:1450px;top:748px;width:1px;height:14px;background:#606060"></div>
<svg width="30" height="12" viewBox="0 0 30 12" style="position:absolute;left:1608px;top:748px"><path d="M8 3v7l-3.6 -3.5z" fill="#a0a0a0"/><path d="M24 3v7l3.6 -3.5z" fill="#a0a0a0"/></svg>
</body></html>
